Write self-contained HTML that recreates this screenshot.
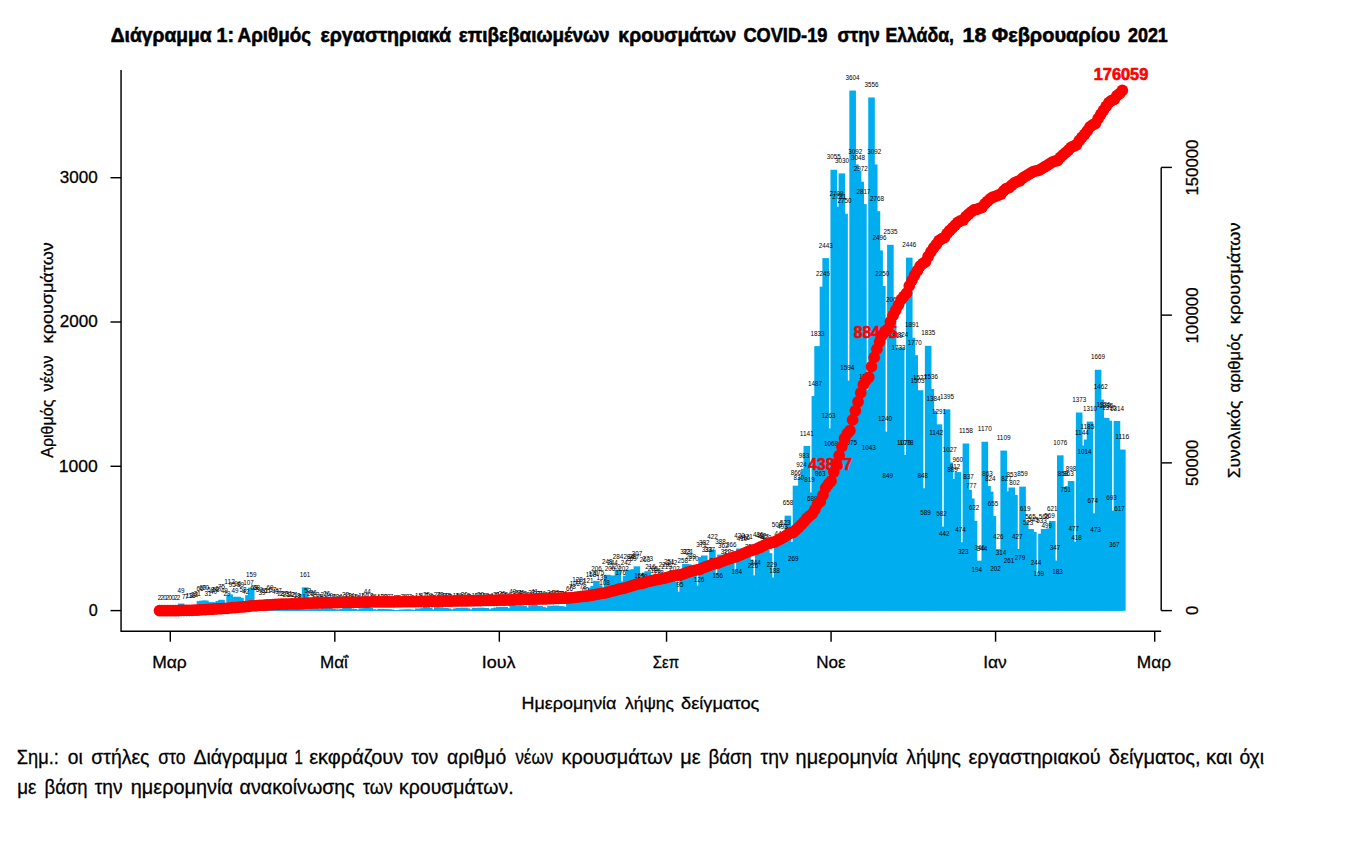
<!DOCTYPE html>
<html lang="el"><head><meta charset="utf-8"><title>Διάγραμμα 1</title>
<style>html,body{margin:0;padding:0;background:#fff}svg{display:block}text{font-family:'Liberation Sans', sans-serif}</style></head>
<body>
<svg width="1364" height="848" viewBox="0 0 1364 848">
<rect width="1364" height="848" fill="#fff"/>
<g fill="#00AEEF">
<rect x="156.21" y="610.31" width="6.60" height="0.44"/>
<rect x="158.91" y="610.31" width="6.60" height="0.44"/>
<rect x="164.30" y="610.31" width="6.60" height="0.44"/>
<rect x="172.39" y="610.31" width="6.60" height="0.44"/>
<rect x="175.09" y="610.31" width="6.60" height="0.44"/>
<rect x="177.79" y="603.53" width="6.60" height="7.22"/>
<rect x="180.49" y="609.59" width="6.60" height="1.16"/>
<rect x="183.18" y="609.59" width="6.60" height="1.16"/>
<rect x="185.88" y="608.72" width="6.60" height="2.03"/>
<rect x="188.58" y="608.00" width="6.60" height="2.75"/>
<rect x="191.27" y="607.28" width="6.60" height="3.47"/>
<rect x="193.97" y="606.13" width="6.60" height="4.62"/>
<rect x="196.67" y="601.08" width="6.60" height="9.67"/>
<rect x="199.36" y="600.64" width="6.60" height="10.11"/>
<rect x="202.06" y="600.50" width="6.60" height="10.25"/>
<rect x="204.76" y="606.13" width="6.60" height="4.62"/>
<rect x="207.45" y="602.09" width="6.60" height="8.66"/>
<rect x="210.15" y="604.83" width="6.60" height="5.92"/>
<rect x="212.85" y="602.23" width="6.60" height="8.52"/>
<rect x="215.55" y="600.93" width="6.60" height="9.82"/>
<rect x="218.24" y="599.78" width="6.60" height="10.97"/>
<rect x="220.94" y="603.53" width="6.60" height="7.22"/>
<rect x="223.64" y="606.42" width="6.60" height="4.33"/>
<rect x="226.33" y="594.44" width="6.60" height="16.31"/>
<rect x="229.03" y="596.89" width="6.60" height="13.86"/>
<rect x="231.73" y="603.53" width="6.60" height="7.22"/>
<rect x="234.43" y="596.75" width="6.60" height="14.00"/>
<rect x="237.12" y="597.76" width="6.60" height="12.99"/>
<rect x="239.82" y="602.23" width="6.60" height="8.52"/>
<rect x="242.52" y="604.54" width="6.60" height="6.21"/>
<rect x="245.21" y="595.16" width="6.60" height="15.59"/>
<rect x="247.91" y="587.66" width="6.60" height="23.09"/>
<rect x="250.61" y="600.79" width="6.60" height="9.96"/>
<rect x="253.30" y="600.79" width="6.60" height="9.96"/>
<rect x="256.00" y="602.09" width="6.60" height="8.66"/>
<rect x="258.70" y="604.97" width="6.60" height="5.78"/>
<rect x="261.39" y="603.24" width="6.60" height="7.51"/>
<rect x="264.09" y="603.24" width="6.60" height="7.51"/>
<rect x="266.79" y="600.64" width="6.60" height="10.11"/>
<rect x="269.49" y="602.37" width="6.60" height="8.38"/>
<rect x="272.18" y="604.40" width="6.60" height="6.35"/>
<rect x="274.88" y="603.82" width="6.60" height="6.93"/>
<rect x="277.58" y="606.56" width="6.60" height="4.19"/>
<rect x="280.27" y="606.70" width="6.60" height="4.05"/>
<rect x="282.97" y="606.99" width="6.60" height="3.76"/>
<rect x="285.67" y="606.13" width="6.60" height="4.62"/>
<rect x="288.37" y="607.43" width="6.60" height="3.32"/>
<rect x="291.06" y="607.57" width="6.60" height="3.18"/>
<rect x="293.76" y="608.00" width="6.60" height="2.75"/>
<rect x="296.46" y="609.45" width="6.60" height="1.30"/>
<rect x="299.15" y="609.01" width="6.60" height="1.74"/>
<rect x="301.85" y="587.37" width="6.60" height="23.38"/>
<rect x="304.55" y="602.95" width="6.60" height="7.80"/>
<rect x="307.24" y="606.85" width="6.60" height="3.90"/>
<rect x="309.94" y="605.41" width="6.60" height="5.34"/>
<rect x="312.64" y="607.28" width="6.60" height="3.47"/>
<rect x="315.33" y="609.01" width="6.60" height="1.74"/>
<rect x="318.03" y="609.30" width="6.60" height="1.45"/>
<rect x="320.73" y="607.57" width="6.60" height="3.18"/>
<rect x="323.43" y="606.85" width="6.60" height="3.90"/>
<rect x="326.12" y="607.86" width="6.60" height="2.89"/>
<rect x="328.82" y="608.87" width="6.60" height="1.88"/>
<rect x="331.52" y="609.73" width="6.60" height="1.02"/>
<rect x="334.21" y="609.45" width="6.60" height="1.30"/>
<rect x="336.91" y="609.88" width="6.60" height="0.87"/>
<rect x="339.61" y="608.87" width="6.60" height="1.88"/>
<rect x="342.31" y="607.43" width="6.60" height="3.32"/>
<rect x="345.00" y="608.00" width="6.60" height="2.75"/>
<rect x="347.70" y="608.58" width="6.60" height="2.17"/>
<rect x="350.40" y="609.01" width="6.60" height="1.74"/>
<rect x="353.09" y="609.73" width="6.60" height="1.02"/>
<rect x="355.79" y="609.88" width="6.60" height="0.87"/>
<rect x="358.49" y="608.29" width="6.60" height="2.46"/>
<rect x="361.18" y="608.58" width="6.60" height="2.17"/>
<rect x="363.88" y="604.25" width="6.60" height="6.50"/>
<rect x="366.58" y="608.00" width="6.60" height="2.75"/>
<rect x="369.28" y="609.30" width="6.60" height="1.45"/>
<rect x="371.97" y="609.73" width="6.60" height="1.02"/>
<rect x="374.67" y="610.02" width="6.60" height="0.73"/>
<rect x="377.37" y="608.87" width="6.60" height="1.88"/>
<rect x="380.06" y="609.16" width="6.60" height="1.59"/>
<rect x="382.76" y="609.30" width="6.60" height="1.45"/>
<rect x="385.46" y="609.45" width="6.60" height="1.30"/>
<rect x="388.15" y="609.59" width="6.60" height="1.16"/>
<rect x="390.85" y="610.02" width="6.60" height="0.73"/>
<rect x="393.55" y="610.17" width="6.60" height="0.58"/>
<rect x="396.25" y="609.88" width="6.60" height="0.87"/>
<rect x="398.94" y="609.59" width="6.60" height="1.16"/>
<rect x="401.64" y="609.73" width="6.60" height="1.02"/>
<rect x="404.34" y="609.45" width="6.60" height="1.30"/>
<rect x="407.03" y="609.59" width="6.60" height="1.16"/>
<rect x="409.73" y="609.88" width="6.60" height="0.87"/>
<rect x="412.43" y="610.02" width="6.60" height="0.73"/>
<rect x="415.12" y="608.44" width="6.60" height="2.31"/>
<rect x="417.82" y="609.88" width="6.60" height="0.87"/>
<rect x="420.52" y="608.15" width="6.60" height="2.60"/>
<rect x="423.22" y="606.99" width="6.60" height="3.76"/>
<rect x="425.91" y="607.86" width="6.60" height="2.89"/>
<rect x="428.61" y="609.45" width="6.60" height="1.30"/>
<rect x="431.31" y="609.88" width="6.60" height="0.87"/>
<rect x="434.00" y="607.14" width="6.60" height="3.61"/>
<rect x="436.70" y="607.28" width="6.60" height="3.47"/>
<rect x="439.40" y="607.86" width="6.60" height="2.89"/>
<rect x="442.09" y="608.00" width="6.60" height="2.75"/>
<rect x="444.79" y="608.44" width="6.60" height="2.31"/>
<rect x="447.49" y="609.45" width="6.60" height="1.30"/>
<rect x="450.19" y="610.02" width="6.60" height="0.73"/>
<rect x="452.88" y="608.44" width="6.60" height="2.31"/>
<rect x="455.58" y="607.86" width="6.60" height="2.89"/>
<rect x="458.28" y="609.59" width="6.60" height="1.16"/>
<rect x="460.97" y="607.71" width="6.60" height="3.04"/>
<rect x="463.67" y="608.29" width="6.60" height="2.46"/>
<rect x="466.37" y="609.45" width="6.60" height="1.30"/>
<rect x="469.06" y="609.88" width="6.60" height="0.87"/>
<rect x="471.76" y="607.86" width="6.60" height="2.89"/>
<rect x="474.46" y="608.15" width="6.60" height="2.60"/>
<rect x="477.16" y="607.71" width="6.60" height="3.04"/>
<rect x="479.85" y="607.86" width="6.60" height="2.89"/>
<rect x="482.55" y="608.00" width="6.60" height="2.75"/>
<rect x="485.25" y="609.45" width="6.60" height="1.30"/>
<rect x="487.94" y="609.59" width="6.60" height="1.16"/>
<rect x="490.64" y="608.15" width="6.60" height="2.60"/>
<rect x="493.34" y="607.57" width="6.60" height="3.18"/>
<rect x="496.03" y="607.14" width="6.60" height="3.61"/>
<rect x="498.73" y="606.85" width="6.60" height="3.90"/>
<rect x="501.43" y="606.99" width="6.60" height="3.76"/>
<rect x="504.12" y="608.15" width="6.60" height="2.60"/>
<rect x="506.82" y="608.87" width="6.60" height="1.88"/>
<rect x="509.52" y="604.83" width="6.60" height="5.92"/>
<rect x="512.22" y="606.27" width="6.60" height="4.48"/>
<rect x="514.91" y="605.69" width="6.60" height="5.06"/>
<rect x="517.61" y="605.41" width="6.60" height="5.34"/>
<rect x="520.31" y="605.98" width="6.60" height="4.77"/>
<rect x="523.00" y="607.43" width="6.60" height="3.32"/>
<rect x="525.70" y="608.15" width="6.60" height="2.60"/>
<rect x="528.40" y="605.26" width="6.60" height="5.49"/>
<rect x="531.10" y="604.68" width="6.60" height="6.07"/>
<rect x="533.79" y="605.98" width="6.60" height="4.77"/>
<rect x="536.49" y="606.13" width="6.60" height="4.62"/>
<rect x="539.19" y="606.85" width="6.60" height="3.90"/>
<rect x="541.88" y="609.16" width="6.60" height="1.59"/>
<rect x="544.58" y="607.71" width="6.60" height="3.04"/>
<rect x="547.28" y="605.69" width="6.60" height="5.06"/>
<rect x="549.97" y="606.13" width="6.60" height="4.62"/>
<rect x="552.67" y="605.55" width="6.60" height="5.20"/>
<rect x="555.37" y="605.98" width="6.60" height="4.77"/>
<rect x="558.07" y="606.13" width="6.60" height="4.62"/>
<rect x="560.76" y="606.85" width="6.60" height="3.90"/>
<rect x="563.46" y="607.14" width="6.60" height="3.61"/>
<rect x="566.16" y="601.08" width="6.60" height="9.67"/>
<rect x="568.85" y="599.34" width="6.60" height="11.41"/>
<rect x="571.55" y="595.88" width="6.60" height="14.87"/>
<rect x="574.25" y="592.13" width="6.60" height="18.62"/>
<rect x="576.94" y="594.44" width="6.60" height="16.31"/>
<rect x="579.64" y="599.34" width="6.60" height="11.41"/>
<rect x="582.34" y="601.94" width="6.60" height="8.81"/>
<rect x="585.04" y="593.14" width="6.60" height="17.61"/>
<rect x="587.73" y="587.80" width="6.60" height="22.95"/>
<rect x="590.43" y="585.92" width="6.60" height="24.83"/>
<rect x="593.13" y="580.87" width="6.60" height="29.88"/>
<rect x="595.82" y="585.35" width="6.60" height="25.40"/>
<rect x="598.52" y="590.54" width="6.60" height="20.21"/>
<rect x="601.22" y="595.02" width="6.60" height="15.73"/>
<rect x="603.91" y="574.81" width="6.60" height="35.94"/>
<rect x="606.61" y="580.87" width="6.60" height="29.88"/>
<rect x="609.31" y="575.39" width="6.60" height="35.36"/>
<rect x="612.01" y="578.85" width="6.60" height="31.90"/>
<rect x="614.70" y="569.62" width="6.60" height="41.13"/>
<rect x="617.40" y="585.20" width="6.60" height="25.55"/>
<rect x="620.10" y="581.45" width="6.60" height="29.30"/>
<rect x="622.79" y="575.68" width="6.60" height="35.07"/>
<rect x="625.49" y="569.62" width="6.60" height="41.13"/>
<rect x="628.19" y="571.78" width="6.60" height="38.97"/>
<rect x="630.88" y="569.19" width="6.60" height="41.56"/>
<rect x="633.58" y="566.30" width="6.60" height="44.45"/>
<rect x="636.28" y="588.23" width="6.60" height="22.52"/>
<rect x="638.98" y="588.96" width="6.60" height="21.79"/>
<rect x="641.67" y="572.65" width="6.60" height="38.10"/>
<rect x="644.37" y="571.21" width="6.60" height="39.54"/>
<rect x="647.07" y="579.43" width="6.60" height="31.32"/>
<rect x="649.76" y="581.02" width="6.60" height="29.73"/>
<rect x="652.46" y="583.76" width="6.60" height="26.99"/>
<rect x="655.16" y="584.91" width="6.60" height="25.84"/>
<rect x="657.85" y="590.40" width="6.60" height="20.35"/>
<rect x="660.55" y="577.56" width="6.60" height="33.19"/>
<rect x="663.25" y="579.00" width="6.60" height="31.75"/>
<rect x="665.95" y="574.38" width="6.60" height="36.37"/>
<rect x="668.64" y="575.68" width="6.60" height="35.07"/>
<rect x="671.34" y="581.45" width="6.60" height="29.30"/>
<rect x="674.04" y="591.70" width="6.60" height="19.05"/>
<rect x="676.73" y="596.89" width="6.60" height="13.86"/>
<rect x="679.43" y="573.37" width="6.60" height="37.38"/>
<rect x="682.13" y="563.99" width="6.60" height="46.76"/>
<rect x="684.82" y="564.28" width="6.60" height="46.47"/>
<rect x="687.52" y="568.90" width="6.60" height="41.85"/>
<rect x="690.22" y="571.64" width="6.60" height="39.11"/>
<rect x="692.91" y="585.64" width="6.60" height="25.11"/>
<rect x="695.61" y="592.42" width="6.60" height="18.33"/>
<rect x="698.31" y="557.06" width="6.60" height="53.69"/>
<rect x="701.01" y="555.48" width="6.60" height="55.27"/>
<rect x="703.70" y="562.55" width="6.60" height="48.20"/>
<rect x="706.40" y="561.97" width="6.60" height="48.78"/>
<rect x="709.10" y="549.71" width="6.60" height="61.04"/>
<rect x="711.79" y="573.08" width="6.60" height="37.67"/>
<rect x="714.49" y="588.09" width="6.60" height="22.66"/>
<rect x="717.19" y="554.61" width="6.60" height="56.14"/>
<rect x="719.88" y="558.36" width="6.60" height="52.39"/>
<rect x="722.58" y="564.14" width="6.60" height="46.61"/>
<rect x="725.28" y="565.58" width="6.60" height="45.17"/>
<rect x="727.98" y="557.79" width="6.60" height="52.96"/>
<rect x="730.67" y="569.47" width="6.60" height="41.28"/>
<rect x="733.37" y="584.05" width="6.60" height="26.70"/>
<rect x="736.07" y="548.55" width="6.60" height="62.20"/>
<rect x="738.76" y="551.44" width="6.60" height="59.31"/>
<rect x="741.46" y="550.57" width="6.60" height="60.18"/>
<rect x="744.16" y="549.85" width="6.60" height="60.90"/>
<rect x="746.86" y="559.52" width="6.60" height="51.23"/>
<rect x="749.55" y="577.99" width="6.60" height="32.76"/>
<rect x="752.25" y="575.39" width="6.60" height="35.36"/>
<rect x="754.95" y="547.69" width="6.60" height="63.06"/>
<rect x="757.64" y="548.26" width="6.60" height="62.49"/>
<rect x="760.34" y="548.98" width="6.60" height="61.77"/>
<rect x="763.04" y="549.99" width="6.60" height="60.76"/>
<rect x="765.73" y="553.17" width="6.60" height="57.58"/>
<rect x="768.43" y="577.56" width="6.60" height="33.19"/>
<rect x="771.13" y="583.47" width="6.60" height="27.28"/>
<rect x="773.83" y="537.30" width="6.60" height="73.45"/>
<rect x="776.52" y="546.10" width="6.60" height="64.65"/>
<rect x="779.22" y="539.46" width="6.60" height="71.29"/>
<rect x="781.92" y="535.13" width="6.60" height="75.62"/>
<rect x="784.61" y="515.65" width="6.60" height="95.10"/>
<rect x="787.31" y="541.91" width="6.60" height="68.84"/>
<rect x="790.01" y="571.78" width="6.60" height="38.97"/>
<rect x="792.70" y="485.64" width="6.60" height="125.11"/>
<rect x="795.40" y="490.83" width="6.60" height="119.92"/>
<rect x="798.10" y="477.27" width="6.60" height="133.48"/>
<rect x="800.80" y="468.75" width="6.60" height="142.00"/>
<rect x="803.49" y="445.95" width="6.60" height="164.80"/>
<rect x="806.19" y="492.42" width="6.60" height="118.33"/>
<rect x="808.89" y="511.18" width="6.60" height="99.57"/>
<rect x="811.58" y="396.03" width="6.60" height="214.72"/>
<rect x="814.28" y="346.10" width="6.60" height="264.65"/>
<rect x="816.98" y="486.07" width="6.60" height="124.68"/>
<rect x="819.67" y="286.65" width="6.60" height="324.10"/>
<rect x="822.37" y="258.08" width="6.60" height="352.67"/>
<rect x="825.07" y="428.35" width="6.60" height="182.40"/>
<rect x="827.77" y="456.49" width="6.60" height="154.26"/>
<rect x="830.46" y="169.76" width="6.60" height="440.99"/>
<rect x="833.16" y="206.70" width="6.60" height="404.05"/>
<rect x="835.86" y="209.30" width="6.60" height="401.45"/>
<rect x="838.55" y="173.37" width="6.60" height="437.38"/>
<rect x="841.25" y="213.77" width="6.60" height="396.98"/>
<rect x="843.95" y="380.59" width="6.60" height="230.16"/>
<rect x="846.64" y="455.48" width="6.60" height="155.27"/>
<rect x="849.34" y="90.54" width="6.60" height="520.21"/>
<rect x="852.04" y="164.42" width="6.60" height="446.33"/>
<rect x="854.74" y="170.77" width="6.60" height="439.98"/>
<rect x="857.43" y="181.74" width="6.60" height="429.01"/>
<rect x="860.13" y="204.11" width="6.60" height="406.64"/>
<rect x="862.83" y="389.53" width="6.60" height="221.22"/>
<rect x="865.52" y="460.10" width="6.60" height="150.65"/>
<rect x="868.22" y="97.47" width="6.60" height="513.28"/>
<rect x="870.92" y="164.42" width="6.60" height="446.33"/>
<rect x="873.61" y="211.18" width="6.60" height="399.57"/>
<rect x="876.31" y="250.43" width="6.60" height="360.32"/>
<rect x="879.01" y="285.93" width="6.60" height="324.82"/>
<rect x="881.71" y="431.67" width="6.60" height="179.08"/>
<rect x="884.40" y="488.09" width="6.60" height="122.66"/>
<rect x="887.10" y="244.80" width="6.60" height="365.95"/>
<rect x="889.80" y="312.19" width="6.60" height="298.56"/>
<rect x="892.49" y="348.12" width="6.60" height="262.63"/>
<rect x="895.19" y="360.53" width="6.60" height="250.22"/>
<rect x="897.89" y="347.40" width="6.60" height="263.35"/>
<rect x="900.58" y="454.90" width="6.60" height="155.85"/>
<rect x="903.28" y="455.04" width="6.60" height="155.71"/>
<rect x="905.98" y="257.64" width="6.60" height="353.11"/>
<rect x="908.68" y="337.73" width="6.60" height="273.02"/>
<rect x="911.37" y="355.19" width="6.60" height="255.56"/>
<rect x="914.07" y="393.72" width="6.60" height="217.03"/>
<rect x="916.77" y="390.25" width="6.60" height="220.50"/>
<rect x="919.46" y="488.23" width="6.60" height="122.52"/>
<rect x="922.16" y="525.61" width="6.60" height="85.14"/>
<rect x="924.86" y="345.81" width="6.60" height="264.94"/>
<rect x="927.55" y="388.96" width="6.60" height="221.79"/>
<rect x="930.25" y="410.89" width="6.60" height="199.86"/>
<rect x="932.95" y="445.81" width="6.60" height="164.94"/>
<rect x="935.64" y="424.31" width="6.60" height="186.44"/>
<rect x="938.34" y="526.62" width="6.60" height="84.13"/>
<rect x="941.04" y="546.82" width="6.60" height="63.93"/>
<rect x="943.74" y="409.30" width="6.60" height="201.45"/>
<rect x="946.43" y="462.40" width="6.60" height="148.35"/>
<rect x="949.13" y="482.32" width="6.60" height="128.43"/>
<rect x="951.83" y="479.00" width="6.60" height="131.75"/>
<rect x="954.52" y="472.07" width="6.60" height="138.68"/>
<rect x="957.22" y="542.20" width="6.60" height="68.55"/>
<rect x="959.92" y="563.99" width="6.60" height="46.76"/>
<rect x="962.62" y="443.50" width="6.60" height="167.25"/>
<rect x="965.31" y="489.82" width="6.60" height="120.93"/>
<rect x="968.01" y="498.48" width="6.60" height="112.27"/>
<rect x="970.71" y="520.85" width="6.60" height="89.90"/>
<rect x="973.40" y="582.61" width="6.60" height="28.14"/>
<rect x="976.10" y="560.67" width="6.60" height="50.08"/>
<rect x="978.80" y="560.96" width="6.60" height="49.79"/>
<rect x="981.49" y="441.77" width="6.60" height="168.98"/>
<rect x="984.19" y="486.07" width="6.60" height="124.68"/>
<rect x="986.89" y="491.70" width="6.60" height="119.05"/>
<rect x="989.59" y="516.08" width="6.60" height="94.67"/>
<rect x="992.28" y="581.45" width="6.60" height="29.30"/>
<rect x="994.98" y="549.13" width="6.60" height="61.62"/>
<rect x="997.68" y="565.29" width="6.60" height="45.46"/>
<rect x="1000.37" y="450.57" width="6.60" height="160.18"/>
<rect x="1003.07" y="491.26" width="6.60" height="119.49"/>
<rect x="1005.77" y="572.94" width="6.60" height="37.81"/>
<rect x="1008.46" y="487.51" width="6.60" height="123.24"/>
<rect x="1011.16" y="494.87" width="6.60" height="115.88"/>
<rect x="1013.86" y="548.98" width="6.60" height="61.77"/>
<rect x="1016.56" y="570.34" width="6.60" height="40.41"/>
<rect x="1019.25" y="486.65" width="6.60" height="124.10"/>
<rect x="1021.95" y="521.28" width="6.60" height="89.47"/>
<rect x="1024.65" y="535.13" width="6.60" height="75.62"/>
<rect x="1027.34" y="529.07" width="6.60" height="81.68"/>
<rect x="1030.04" y="531.96" width="6.60" height="78.79"/>
<rect x="1032.74" y="575.39" width="6.60" height="35.36"/>
<rect x="1035.43" y="586.21" width="6.60" height="24.54"/>
<rect x="1038.13" y="533.69" width="6.60" height="77.06"/>
<rect x="1040.83" y="528.93" width="6.60" height="81.82"/>
<rect x="1043.53" y="538.59" width="6.60" height="72.16"/>
<rect x="1046.22" y="528.49" width="6.60" height="82.26"/>
<rect x="1048.92" y="520.99" width="6.60" height="89.76"/>
<rect x="1051.62" y="560.53" width="6.60" height="50.22"/>
<rect x="1054.31" y="584.19" width="6.60" height="26.56"/>
<rect x="1057.01" y="455.33" width="6.60" height="155.42"/>
<rect x="1059.71" y="486.79" width="6.60" height="123.96"/>
<rect x="1062.40" y="502.23" width="6.60" height="108.52"/>
<rect x="1065.10" y="486.07" width="6.60" height="124.68"/>
<rect x="1067.80" y="481.02" width="6.60" height="129.73"/>
<rect x="1070.50" y="541.77" width="6.60" height="68.98"/>
<rect x="1073.19" y="550.28" width="6.60" height="60.47"/>
<rect x="1075.89" y="412.48" width="6.60" height="198.27"/>
<rect x="1078.59" y="445.52" width="6.60" height="165.23"/>
<rect x="1081.28" y="464.28" width="6.60" height="146.47"/>
<rect x="1083.98" y="439.60" width="6.60" height="171.15"/>
<rect x="1086.68" y="421.57" width="6.60" height="189.18"/>
<rect x="1089.37" y="513.34" width="6.60" height="97.41"/>
<rect x="1092.07" y="542.35" width="6.60" height="68.40"/>
<rect x="1094.77" y="369.76" width="6.60" height="240.99"/>
<rect x="1097.47" y="399.63" width="6.60" height="211.12"/>
<rect x="1100.16" y="417.82" width="6.60" height="192.93"/>
<rect x="1102.86" y="417.96" width="6.60" height="192.79"/>
<rect x="1105.56" y="420.70" width="6.60" height="190.05"/>
<rect x="1108.25" y="510.60" width="6.60" height="100.15"/>
<rect x="1110.95" y="557.64" width="6.60" height="53.11"/>
<rect x="1113.65" y="420.99" width="6.60" height="189.76"/>
<rect x="1116.34" y="521.57" width="6.60" height="89.18"/>
<rect x="1119.04" y="449.56" width="6.60" height="161.19"/>
</g>
<g font-size="6.3" text-anchor="middle" fill="#000">
<text x="159.5" y="599.9" textLength="3.5" lengthAdjust="spacingAndGlyphs">2</text>
<text x="162.2" y="599.9" textLength="3.5" lengthAdjust="spacingAndGlyphs">2</text>
<text x="164.9" y="600.2" textLength="3.5" lengthAdjust="spacingAndGlyphs">0</text>
<text x="167.6" y="599.9" textLength="3.5" lengthAdjust="spacingAndGlyphs">2</text>
<text x="170.3" y="600.2" textLength="3.5" lengthAdjust="spacingAndGlyphs">0</text>
<text x="173.0" y="600.2" textLength="3.5" lengthAdjust="spacingAndGlyphs">0</text>
<text x="175.7" y="599.9" textLength="3.5" lengthAdjust="spacingAndGlyphs">2</text>
<text x="178.4" y="599.9" textLength="3.5" lengthAdjust="spacingAndGlyphs">2</text>
<text x="181.1" y="593.1" textLength="7.0" lengthAdjust="spacingAndGlyphs">49</text>
<text x="183.8" y="599.2" textLength="3.5" lengthAdjust="spacingAndGlyphs">7</text>
<text x="186.5" y="599.2" textLength="3.5" lengthAdjust="spacingAndGlyphs">7</text>
<text x="189.2" y="598.3" textLength="7.0" lengthAdjust="spacingAndGlyphs">13</text>
<text x="191.9" y="597.6" textLength="7.0" lengthAdjust="spacingAndGlyphs">18</text>
<text x="194.6" y="596.9" textLength="7.0" lengthAdjust="spacingAndGlyphs">23</text>
<text x="197.3" y="595.7" textLength="7.0" lengthAdjust="spacingAndGlyphs">31</text>
<text x="200.0" y="590.7" textLength="7.0" lengthAdjust="spacingAndGlyphs">66</text>
<text x="202.7" y="590.2" textLength="7.0" lengthAdjust="spacingAndGlyphs">69</text>
<text x="205.4" y="590.1" textLength="7.0" lengthAdjust="spacingAndGlyphs">70</text>
<text x="208.1" y="595.7" textLength="7.0" lengthAdjust="spacingAndGlyphs">31</text>
<text x="210.8" y="591.7" textLength="7.0" lengthAdjust="spacingAndGlyphs">59</text>
<text x="213.5" y="594.4" textLength="7.0" lengthAdjust="spacingAndGlyphs">40</text>
<text x="216.1" y="591.8" textLength="7.0" lengthAdjust="spacingAndGlyphs">58</text>
<text x="218.8" y="590.5" textLength="7.0" lengthAdjust="spacingAndGlyphs">67</text>
<text x="221.5" y="589.4" textLength="7.0" lengthAdjust="spacingAndGlyphs">75</text>
<text x="224.2" y="593.1" textLength="7.0" lengthAdjust="spacingAndGlyphs">49</text>
<text x="226.9" y="596.0" textLength="7.0" lengthAdjust="spacingAndGlyphs">29</text>
<text x="229.6" y="584.0" textLength="10.5" lengthAdjust="spacingAndGlyphs">112</text>
<text x="232.3" y="586.5" textLength="7.0" lengthAdjust="spacingAndGlyphs">95</text>
<text x="235.0" y="593.1" textLength="7.0" lengthAdjust="spacingAndGlyphs">49</text>
<text x="237.7" y="586.3" textLength="7.0" lengthAdjust="spacingAndGlyphs">96</text>
<text x="240.4" y="587.4" textLength="7.0" lengthAdjust="spacingAndGlyphs">89</text>
<text x="243.1" y="591.8" textLength="7.0" lengthAdjust="spacingAndGlyphs">58</text>
<text x="245.8" y="594.1" textLength="7.0" lengthAdjust="spacingAndGlyphs">42</text>
<text x="248.5" y="584.8" textLength="10.5" lengthAdjust="spacingAndGlyphs">107</text>
<text x="251.2" y="577.3" textLength="10.5" lengthAdjust="spacingAndGlyphs">159</text>
<text x="253.9" y="590.4" textLength="7.0" lengthAdjust="spacingAndGlyphs">68</text>
<text x="256.6" y="590.4" textLength="7.0" lengthAdjust="spacingAndGlyphs">68</text>
<text x="259.3" y="591.7" textLength="7.0" lengthAdjust="spacingAndGlyphs">59</text>
<text x="262.0" y="594.6" textLength="7.0" lengthAdjust="spacingAndGlyphs">39</text>
<text x="264.7" y="592.8" textLength="7.0" lengthAdjust="spacingAndGlyphs">51</text>
<text x="267.4" y="592.8" textLength="7.0" lengthAdjust="spacingAndGlyphs">51</text>
<text x="270.1" y="590.2" textLength="7.0" lengthAdjust="spacingAndGlyphs">69</text>
<text x="272.8" y="592.0" textLength="7.0" lengthAdjust="spacingAndGlyphs">57</text>
<text x="275.5" y="594.0" textLength="7.0" lengthAdjust="spacingAndGlyphs">43</text>
<text x="278.2" y="593.4" textLength="7.0" lengthAdjust="spacingAndGlyphs">47</text>
<text x="280.9" y="596.2" textLength="7.0" lengthAdjust="spacingAndGlyphs">28</text>
<text x="283.6" y="596.3" textLength="7.0" lengthAdjust="spacingAndGlyphs">27</text>
<text x="286.3" y="596.6" textLength="7.0" lengthAdjust="spacingAndGlyphs">25</text>
<text x="289.0" y="595.7" textLength="7.0" lengthAdjust="spacingAndGlyphs">31</text>
<text x="291.7" y="597.0" textLength="7.0" lengthAdjust="spacingAndGlyphs">22</text>
<text x="294.4" y="597.2" textLength="7.0" lengthAdjust="spacingAndGlyphs">21</text>
<text x="297.1" y="597.6" textLength="7.0" lengthAdjust="spacingAndGlyphs">18</text>
<text x="299.8" y="599.0" textLength="3.5" lengthAdjust="spacingAndGlyphs">8</text>
<text x="302.5" y="598.6" textLength="7.0" lengthAdjust="spacingAndGlyphs">11</text>
<text x="305.1" y="577.0" textLength="10.5" lengthAdjust="spacingAndGlyphs">161</text>
<text x="307.8" y="592.6" textLength="7.0" lengthAdjust="spacingAndGlyphs">53</text>
<text x="310.5" y="596.4" textLength="7.0" lengthAdjust="spacingAndGlyphs">26</text>
<text x="313.2" y="595.0" textLength="7.0" lengthAdjust="spacingAndGlyphs">36</text>
<text x="315.9" y="596.9" textLength="7.0" lengthAdjust="spacingAndGlyphs">23</text>
<text x="318.6" y="598.6" textLength="7.0" lengthAdjust="spacingAndGlyphs">11</text>
<text x="321.3" y="598.9" textLength="3.5" lengthAdjust="spacingAndGlyphs">9</text>
<text x="324.0" y="597.2" textLength="7.0" lengthAdjust="spacingAndGlyphs">21</text>
<text x="326.7" y="596.4" textLength="7.0" lengthAdjust="spacingAndGlyphs">26</text>
<text x="329.4" y="597.5" textLength="7.0" lengthAdjust="spacingAndGlyphs">19</text>
<text x="332.1" y="598.5" textLength="7.0" lengthAdjust="spacingAndGlyphs">12</text>
<text x="334.8" y="599.3" textLength="3.5" lengthAdjust="spacingAndGlyphs">6</text>
<text x="337.5" y="599.0" textLength="3.5" lengthAdjust="spacingAndGlyphs">8</text>
<text x="340.2" y="599.5" textLength="3.5" lengthAdjust="spacingAndGlyphs">5</text>
<text x="342.9" y="598.5" textLength="7.0" lengthAdjust="spacingAndGlyphs">12</text>
<text x="345.6" y="597.0" textLength="7.0" lengthAdjust="spacingAndGlyphs">22</text>
<text x="348.3" y="597.6" textLength="7.0" lengthAdjust="spacingAndGlyphs">18</text>
<text x="351.0" y="598.2" textLength="7.0" lengthAdjust="spacingAndGlyphs">14</text>
<text x="353.7" y="598.6" textLength="7.0" lengthAdjust="spacingAndGlyphs">11</text>
<text x="356.4" y="599.3" textLength="3.5" lengthAdjust="spacingAndGlyphs">6</text>
<text x="359.1" y="599.5" textLength="3.5" lengthAdjust="spacingAndGlyphs">5</text>
<text x="361.8" y="597.9" textLength="7.0" lengthAdjust="spacingAndGlyphs">16</text>
<text x="364.5" y="598.2" textLength="7.0" lengthAdjust="spacingAndGlyphs">14</text>
<text x="367.2" y="593.9" textLength="7.0" lengthAdjust="spacingAndGlyphs">44</text>
<text x="369.9" y="597.6" textLength="7.0" lengthAdjust="spacingAndGlyphs">18</text>
<text x="372.6" y="598.9" textLength="3.5" lengthAdjust="spacingAndGlyphs">9</text>
<text x="375.3" y="599.3" textLength="3.5" lengthAdjust="spacingAndGlyphs">6</text>
<text x="378.0" y="599.6" textLength="3.5" lengthAdjust="spacingAndGlyphs">4</text>
<text x="380.7" y="598.5" textLength="7.0" lengthAdjust="spacingAndGlyphs">12</text>
<text x="383.4" y="598.8" textLength="7.0" lengthAdjust="spacingAndGlyphs">10</text>
<text x="386.1" y="598.9" textLength="3.5" lengthAdjust="spacingAndGlyphs">9</text>
<text x="388.8" y="599.0" textLength="3.5" lengthAdjust="spacingAndGlyphs">8</text>
<text x="391.5" y="599.2" textLength="3.5" lengthAdjust="spacingAndGlyphs">7</text>
<text x="394.2" y="599.6" textLength="3.5" lengthAdjust="spacingAndGlyphs">4</text>
<text x="396.8" y="599.8" textLength="3.5" lengthAdjust="spacingAndGlyphs">3</text>
<text x="399.5" y="599.5" textLength="3.5" lengthAdjust="spacingAndGlyphs">5</text>
<text x="402.2" y="599.2" textLength="3.5" lengthAdjust="spacingAndGlyphs">7</text>
<text x="404.9" y="599.3" textLength="3.5" lengthAdjust="spacingAndGlyphs">6</text>
<text x="407.6" y="599.0" textLength="3.5" lengthAdjust="spacingAndGlyphs">8</text>
<text x="410.3" y="599.2" textLength="3.5" lengthAdjust="spacingAndGlyphs">7</text>
<text x="413.0" y="599.5" textLength="3.5" lengthAdjust="spacingAndGlyphs">5</text>
<text x="415.7" y="599.6" textLength="3.5" lengthAdjust="spacingAndGlyphs">4</text>
<text x="418.4" y="598.0" textLength="7.0" lengthAdjust="spacingAndGlyphs">15</text>
<text x="421.1" y="599.5" textLength="3.5" lengthAdjust="spacingAndGlyphs">5</text>
<text x="423.8" y="597.7" textLength="7.0" lengthAdjust="spacingAndGlyphs">17</text>
<text x="426.5" y="596.6" textLength="7.0" lengthAdjust="spacingAndGlyphs">25</text>
<text x="429.2" y="597.5" textLength="7.0" lengthAdjust="spacingAndGlyphs">19</text>
<text x="431.9" y="599.0" textLength="3.5" lengthAdjust="spacingAndGlyphs">8</text>
<text x="434.6" y="599.5" textLength="3.5" lengthAdjust="spacingAndGlyphs">5</text>
<text x="437.3" y="596.7" textLength="7.0" lengthAdjust="spacingAndGlyphs">24</text>
<text x="440.0" y="596.9" textLength="7.0" lengthAdjust="spacingAndGlyphs">23</text>
<text x="442.7" y="597.5" textLength="7.0" lengthAdjust="spacingAndGlyphs">19</text>
<text x="445.4" y="597.6" textLength="7.0" lengthAdjust="spacingAndGlyphs">18</text>
<text x="448.1" y="598.0" textLength="7.0" lengthAdjust="spacingAndGlyphs">15</text>
<text x="450.8" y="599.0" textLength="3.5" lengthAdjust="spacingAndGlyphs">8</text>
<text x="453.5" y="599.6" textLength="3.5" lengthAdjust="spacingAndGlyphs">4</text>
<text x="456.2" y="598.0" textLength="7.0" lengthAdjust="spacingAndGlyphs">15</text>
<text x="458.9" y="597.5" textLength="7.0" lengthAdjust="spacingAndGlyphs">19</text>
<text x="461.6" y="599.2" textLength="3.5" lengthAdjust="spacingAndGlyphs">7</text>
<text x="464.3" y="597.3" textLength="7.0" lengthAdjust="spacingAndGlyphs">20</text>
<text x="467.0" y="597.9" textLength="7.0" lengthAdjust="spacingAndGlyphs">16</text>
<text x="469.7" y="599.0" textLength="3.5" lengthAdjust="spacingAndGlyphs">8</text>
<text x="472.4" y="599.5" textLength="3.5" lengthAdjust="spacingAndGlyphs">5</text>
<text x="475.1" y="597.5" textLength="7.0" lengthAdjust="spacingAndGlyphs">19</text>
<text x="477.8" y="597.7" textLength="7.0" lengthAdjust="spacingAndGlyphs">17</text>
<text x="480.5" y="597.3" textLength="7.0" lengthAdjust="spacingAndGlyphs">20</text>
<text x="483.2" y="597.5" textLength="7.0" lengthAdjust="spacingAndGlyphs">19</text>
<text x="485.8" y="597.6" textLength="7.0" lengthAdjust="spacingAndGlyphs">18</text>
<text x="488.5" y="599.0" textLength="3.5" lengthAdjust="spacingAndGlyphs">8</text>
<text x="491.2" y="599.2" textLength="3.5" lengthAdjust="spacingAndGlyphs">7</text>
<text x="493.9" y="597.7" textLength="7.0" lengthAdjust="spacingAndGlyphs">17</text>
<text x="496.6" y="597.2" textLength="7.0" lengthAdjust="spacingAndGlyphs">21</text>
<text x="499.3" y="596.7" textLength="7.0" lengthAdjust="spacingAndGlyphs">24</text>
<text x="502.0" y="596.4" textLength="7.0" lengthAdjust="spacingAndGlyphs">26</text>
<text x="504.7" y="596.6" textLength="7.0" lengthAdjust="spacingAndGlyphs">25</text>
<text x="507.4" y="597.7" textLength="7.0" lengthAdjust="spacingAndGlyphs">17</text>
<text x="510.1" y="598.5" textLength="7.0" lengthAdjust="spacingAndGlyphs">12</text>
<text x="512.8" y="594.4" textLength="7.0" lengthAdjust="spacingAndGlyphs">40</text>
<text x="515.5" y="595.9" textLength="7.0" lengthAdjust="spacingAndGlyphs">30</text>
<text x="518.2" y="595.3" textLength="7.0" lengthAdjust="spacingAndGlyphs">34</text>
<text x="520.9" y="595.0" textLength="7.0" lengthAdjust="spacingAndGlyphs">36</text>
<text x="523.6" y="595.6" textLength="7.0" lengthAdjust="spacingAndGlyphs">32</text>
<text x="526.3" y="597.0" textLength="7.0" lengthAdjust="spacingAndGlyphs">22</text>
<text x="529.0" y="597.7" textLength="7.0" lengthAdjust="spacingAndGlyphs">17</text>
<text x="531.7" y="594.9" textLength="7.0" lengthAdjust="spacingAndGlyphs">37</text>
<text x="534.4" y="594.3" textLength="7.0" lengthAdjust="spacingAndGlyphs">41</text>
<text x="537.1" y="595.6" textLength="7.0" lengthAdjust="spacingAndGlyphs">32</text>
<text x="539.8" y="595.7" textLength="7.0" lengthAdjust="spacingAndGlyphs">31</text>
<text x="542.5" y="596.4" textLength="7.0" lengthAdjust="spacingAndGlyphs">26</text>
<text x="545.2" y="598.8" textLength="7.0" lengthAdjust="spacingAndGlyphs">10</text>
<text x="547.9" y="597.3" textLength="7.0" lengthAdjust="spacingAndGlyphs">20</text>
<text x="550.6" y="595.3" textLength="7.0" lengthAdjust="spacingAndGlyphs">34</text>
<text x="553.3" y="595.7" textLength="7.0" lengthAdjust="spacingAndGlyphs">31</text>
<text x="556.0" y="595.1" textLength="7.0" lengthAdjust="spacingAndGlyphs">35</text>
<text x="558.7" y="595.6" textLength="7.0" lengthAdjust="spacingAndGlyphs">32</text>
<text x="561.4" y="595.7" textLength="7.0" lengthAdjust="spacingAndGlyphs">31</text>
<text x="564.1" y="596.4" textLength="7.0" lengthAdjust="spacingAndGlyphs">26</text>
<text x="566.8" y="596.7" textLength="7.0" lengthAdjust="spacingAndGlyphs">24</text>
<text x="569.5" y="590.7" textLength="7.0" lengthAdjust="spacingAndGlyphs">66</text>
<text x="572.2" y="588.9" textLength="7.0" lengthAdjust="spacingAndGlyphs">78</text>
<text x="574.9" y="585.5" textLength="10.5" lengthAdjust="spacingAndGlyphs">102</text>
<text x="577.5" y="581.7" textLength="10.5" lengthAdjust="spacingAndGlyphs">128</text>
<text x="580.2" y="584.0" textLength="10.5" lengthAdjust="spacingAndGlyphs">112</text>
<text x="582.9" y="588.9" textLength="7.0" lengthAdjust="spacingAndGlyphs">78</text>
<text x="585.6" y="591.5" textLength="7.0" lengthAdjust="spacingAndGlyphs">60</text>
<text x="588.3" y="582.7" textLength="10.5" lengthAdjust="spacingAndGlyphs">121</text>
<text x="591.0" y="577.4" textLength="10.5" lengthAdjust="spacingAndGlyphs">158</text>
<text x="593.7" y="575.5" textLength="10.5" lengthAdjust="spacingAndGlyphs">171</text>
<text x="596.4" y="570.5" textLength="10.5" lengthAdjust="spacingAndGlyphs">206</text>
<text x="599.1" y="574.9" textLength="10.5" lengthAdjust="spacingAndGlyphs">175</text>
<text x="601.8" y="580.1" textLength="10.5" lengthAdjust="spacingAndGlyphs">139</text>
<text x="604.5" y="584.6" textLength="10.5" lengthAdjust="spacingAndGlyphs">108</text>
<text x="607.2" y="564.4" textLength="10.5" lengthAdjust="spacingAndGlyphs">248</text>
<text x="609.9" y="570.5" textLength="10.5" lengthAdjust="spacingAndGlyphs">206</text>
<text x="612.6" y="565.0" textLength="10.5" lengthAdjust="spacingAndGlyphs">244</text>
<text x="615.3" y="568.5" textLength="10.5" lengthAdjust="spacingAndGlyphs">220</text>
<text x="618.0" y="559.2" textLength="10.5" lengthAdjust="spacingAndGlyphs">284</text>
<text x="620.7" y="574.8" textLength="10.5" lengthAdjust="spacingAndGlyphs">176</text>
<text x="623.4" y="571.1" textLength="10.5" lengthAdjust="spacingAndGlyphs">202</text>
<text x="626.1" y="565.3" textLength="10.5" lengthAdjust="spacingAndGlyphs">242</text>
<text x="628.8" y="559.2" textLength="10.5" lengthAdjust="spacingAndGlyphs">284</text>
<text x="631.5" y="561.4" textLength="10.5" lengthAdjust="spacingAndGlyphs">269</text>
<text x="634.2" y="558.8" textLength="10.5" lengthAdjust="spacingAndGlyphs">287</text>
<text x="636.9" y="555.9" textLength="10.5" lengthAdjust="spacingAndGlyphs">307</text>
<text x="639.6" y="577.8" textLength="10.5" lengthAdjust="spacingAndGlyphs">155</text>
<text x="642.3" y="578.6" textLength="10.5" lengthAdjust="spacingAndGlyphs">150</text>
<text x="645.0" y="562.2" textLength="10.5" lengthAdjust="spacingAndGlyphs">263</text>
<text x="647.7" y="560.8" textLength="10.5" lengthAdjust="spacingAndGlyphs">273</text>
<text x="650.4" y="569.0" textLength="10.5" lengthAdjust="spacingAndGlyphs">216</text>
<text x="653.1" y="570.6" textLength="10.5" lengthAdjust="spacingAndGlyphs">205</text>
<text x="655.8" y="573.4" textLength="10.5" lengthAdjust="spacingAndGlyphs">186</text>
<text x="658.5" y="574.5" textLength="10.5" lengthAdjust="spacingAndGlyphs">178</text>
<text x="661.2" y="580.0" textLength="10.5" lengthAdjust="spacingAndGlyphs">140</text>
<text x="663.9" y="567.2" textLength="10.5" lengthAdjust="spacingAndGlyphs">229</text>
<text x="666.5" y="568.6" textLength="10.5" lengthAdjust="spacingAndGlyphs">219</text>
<text x="669.2" y="564.0" textLength="10.5" lengthAdjust="spacingAndGlyphs">251</text>
<text x="671.9" y="565.3" textLength="10.5" lengthAdjust="spacingAndGlyphs">242</text>
<text x="674.6" y="571.1" textLength="10.5" lengthAdjust="spacingAndGlyphs">202</text>
<text x="677.3" y="581.3" textLength="10.5" lengthAdjust="spacingAndGlyphs">131</text>
<text x="680.0" y="586.5" textLength="7.0" lengthAdjust="spacingAndGlyphs">95</text>
<text x="682.7" y="563.0" textLength="10.5" lengthAdjust="spacingAndGlyphs">258</text>
<text x="685.4" y="553.6" textLength="10.5" lengthAdjust="spacingAndGlyphs">323</text>
<text x="688.1" y="553.9" textLength="10.5" lengthAdjust="spacingAndGlyphs">321</text>
<text x="690.8" y="558.5" textLength="10.5" lengthAdjust="spacingAndGlyphs">289</text>
<text x="693.5" y="561.2" textLength="10.5" lengthAdjust="spacingAndGlyphs">270</text>
<text x="696.2" y="575.2" textLength="10.5" lengthAdjust="spacingAndGlyphs">173</text>
<text x="698.9" y="582.0" textLength="10.5" lengthAdjust="spacingAndGlyphs">126</text>
<text x="701.6" y="546.7" textLength="10.5" lengthAdjust="spacingAndGlyphs">371</text>
<text x="704.3" y="545.1" textLength="10.5" lengthAdjust="spacingAndGlyphs">382</text>
<text x="707.0" y="552.1" textLength="10.5" lengthAdjust="spacingAndGlyphs">333</text>
<text x="709.7" y="551.6" textLength="10.5" lengthAdjust="spacingAndGlyphs">337</text>
<text x="712.4" y="539.3" textLength="10.5" lengthAdjust="spacingAndGlyphs">422</text>
<text x="715.1" y="562.7" textLength="10.5" lengthAdjust="spacingAndGlyphs">260</text>
<text x="717.8" y="577.7" textLength="10.5" lengthAdjust="spacingAndGlyphs">156</text>
<text x="720.5" y="544.2" textLength="10.5" lengthAdjust="spacingAndGlyphs">388</text>
<text x="723.2" y="548.0" textLength="10.5" lengthAdjust="spacingAndGlyphs">362</text>
<text x="725.9" y="553.7" textLength="10.5" lengthAdjust="spacingAndGlyphs">322</text>
<text x="728.6" y="555.2" textLength="10.5" lengthAdjust="spacingAndGlyphs">312</text>
<text x="731.3" y="547.4" textLength="10.5" lengthAdjust="spacingAndGlyphs">366</text>
<text x="734.0" y="559.1" textLength="10.5" lengthAdjust="spacingAndGlyphs">285</text>
<text x="736.7" y="573.6" textLength="10.5" lengthAdjust="spacingAndGlyphs">184</text>
<text x="739.4" y="538.2" textLength="10.5" lengthAdjust="spacingAndGlyphs">430</text>
<text x="742.1" y="541.0" textLength="10.5" lengthAdjust="spacingAndGlyphs">410</text>
<text x="744.8" y="540.2" textLength="10.5" lengthAdjust="spacingAndGlyphs">416</text>
<text x="747.5" y="539.4" textLength="10.5" lengthAdjust="spacingAndGlyphs">421</text>
<text x="750.2" y="549.1" textLength="10.5" lengthAdjust="spacingAndGlyphs">354</text>
<text x="752.9" y="567.6" textLength="10.5" lengthAdjust="spacingAndGlyphs">226</text>
<text x="755.5" y="565.0" textLength="10.5" lengthAdjust="spacingAndGlyphs">244</text>
<text x="758.2" y="537.3" textLength="10.5" lengthAdjust="spacingAndGlyphs">436</text>
<text x="760.9" y="537.9" textLength="10.5" lengthAdjust="spacingAndGlyphs">432</text>
<text x="763.6" y="538.6" textLength="10.5" lengthAdjust="spacingAndGlyphs">427</text>
<text x="766.3" y="539.6" textLength="10.5" lengthAdjust="spacingAndGlyphs">420</text>
<text x="769.0" y="542.8" textLength="10.5" lengthAdjust="spacingAndGlyphs">398</text>
<text x="771.7" y="567.2" textLength="10.5" lengthAdjust="spacingAndGlyphs">229</text>
<text x="774.4" y="573.1" textLength="10.5" lengthAdjust="spacingAndGlyphs">188</text>
<text x="777.1" y="526.9" textLength="10.5" lengthAdjust="spacingAndGlyphs">508</text>
<text x="779.8" y="535.7" textLength="10.5" lengthAdjust="spacingAndGlyphs">447</text>
<text x="782.5" y="529.1" textLength="10.5" lengthAdjust="spacingAndGlyphs">493</text>
<text x="785.2" y="524.7" textLength="10.5" lengthAdjust="spacingAndGlyphs">523</text>
<text x="787.9" y="505.3" textLength="10.5" lengthAdjust="spacingAndGlyphs">658</text>
<text x="790.6" y="531.5" textLength="10.5" lengthAdjust="spacingAndGlyphs">476</text>
<text x="793.3" y="561.4" textLength="10.5" lengthAdjust="spacingAndGlyphs">269</text>
<text x="796.0" y="475.2" textLength="10.5" lengthAdjust="spacingAndGlyphs">866</text>
<text x="798.7" y="480.4" textLength="10.5" lengthAdjust="spacingAndGlyphs">830</text>
<text x="801.4" y="466.9" textLength="10.5" lengthAdjust="spacingAndGlyphs">924</text>
<text x="804.1" y="458.4" textLength="10.5" lengthAdjust="spacingAndGlyphs">983</text>
<text x="806.8" y="435.6" textLength="14.0" lengthAdjust="spacingAndGlyphs">1141</text>
<text x="809.5" y="482.0" textLength="10.5" lengthAdjust="spacingAndGlyphs">819</text>
<text x="812.2" y="500.8" textLength="10.5" lengthAdjust="spacingAndGlyphs">689</text>
<text x="814.9" y="385.6" textLength="14.0" lengthAdjust="spacingAndGlyphs">1487</text>
<text x="817.6" y="335.7" textLength="14.0" lengthAdjust="spacingAndGlyphs">1833</text>
<text x="820.3" y="475.7" textLength="10.5" lengthAdjust="spacingAndGlyphs">863</text>
<text x="823.0" y="276.2" textLength="14.0" lengthAdjust="spacingAndGlyphs">2245</text>
<text x="825.7" y="247.7" textLength="14.0" lengthAdjust="spacingAndGlyphs">2443</text>
<text x="828.4" y="417.9" textLength="14.0" lengthAdjust="spacingAndGlyphs">1263</text>
<text x="831.1" y="446.1" textLength="14.0" lengthAdjust="spacingAndGlyphs">1068</text>
<text x="833.8" y="159.4" textLength="14.0" lengthAdjust="spacingAndGlyphs">3055</text>
<text x="836.5" y="196.3" textLength="14.0" lengthAdjust="spacingAndGlyphs">2799</text>
<text x="839.2" y="198.9" textLength="14.0" lengthAdjust="spacingAndGlyphs">2781</text>
<text x="841.9" y="163.0" textLength="14.0" lengthAdjust="spacingAndGlyphs">3030</text>
<text x="844.5" y="203.4" textLength="14.0" lengthAdjust="spacingAndGlyphs">2750</text>
<text x="847.2" y="370.2" textLength="14.0" lengthAdjust="spacingAndGlyphs">1594</text>
<text x="849.9" y="445.1" textLength="14.0" lengthAdjust="spacingAndGlyphs">1075</text>
<text x="852.6" y="80.1" textLength="14.0" lengthAdjust="spacingAndGlyphs">3604</text>
<text x="855.3" y="154.0" textLength="14.0" lengthAdjust="spacingAndGlyphs">3092</text>
<text x="858.0" y="160.4" textLength="14.0" lengthAdjust="spacingAndGlyphs">3048</text>
<text x="860.7" y="171.3" textLength="14.0" lengthAdjust="spacingAndGlyphs">2972</text>
<text x="863.4" y="193.7" textLength="14.0" lengthAdjust="spacingAndGlyphs">2817</text>
<text x="866.1" y="379.1" textLength="14.0" lengthAdjust="spacingAndGlyphs">1532</text>
<text x="868.8" y="449.7" textLength="14.0" lengthAdjust="spacingAndGlyphs">1043</text>
<text x="871.5" y="87.1" textLength="14.0" lengthAdjust="spacingAndGlyphs">3556</text>
<text x="874.2" y="154.0" textLength="14.0" lengthAdjust="spacingAndGlyphs">3092</text>
<text x="876.9" y="200.8" textLength="14.0" lengthAdjust="spacingAndGlyphs">2768</text>
<text x="879.6" y="240.0" textLength="14.0" lengthAdjust="spacingAndGlyphs">2496</text>
<text x="882.3" y="275.5" textLength="14.0" lengthAdjust="spacingAndGlyphs">2250</text>
<text x="885.0" y="421.3" textLength="14.0" lengthAdjust="spacingAndGlyphs">1240</text>
<text x="887.7" y="477.7" textLength="10.5" lengthAdjust="spacingAndGlyphs">849</text>
<text x="890.4" y="234.4" textLength="14.0" lengthAdjust="spacingAndGlyphs">2535</text>
<text x="893.1" y="301.8" textLength="14.0" lengthAdjust="spacingAndGlyphs">2068</text>
<text x="895.8" y="337.7" textLength="14.0" lengthAdjust="spacingAndGlyphs">1819</text>
<text x="898.5" y="350.1" textLength="14.0" lengthAdjust="spacingAndGlyphs">1733</text>
<text x="901.2" y="337.0" textLength="14.0" lengthAdjust="spacingAndGlyphs">1824</text>
<text x="903.9" y="444.5" textLength="14.0" lengthAdjust="spacingAndGlyphs">1079</text>
<text x="906.6" y="444.6" textLength="14.0" lengthAdjust="spacingAndGlyphs">1078</text>
<text x="909.3" y="247.2" textLength="14.0" lengthAdjust="spacingAndGlyphs">2446</text>
<text x="912.0" y="327.3" textLength="14.0" lengthAdjust="spacingAndGlyphs">1891</text>
<text x="914.7" y="344.8" textLength="14.0" lengthAdjust="spacingAndGlyphs">1770</text>
<text x="917.4" y="383.3" textLength="14.0" lengthAdjust="spacingAndGlyphs">1503</text>
<text x="920.1" y="379.9" textLength="14.0" lengthAdjust="spacingAndGlyphs">1527</text>
<text x="922.8" y="477.8" textLength="10.5" lengthAdjust="spacingAndGlyphs">848</text>
<text x="925.5" y="515.2" textLength="10.5" lengthAdjust="spacingAndGlyphs">589</text>
<text x="928.2" y="335.4" textLength="14.0" lengthAdjust="spacingAndGlyphs">1835</text>
<text x="930.9" y="378.6" textLength="14.0" lengthAdjust="spacingAndGlyphs">1536</text>
<text x="933.6" y="400.5" textLength="14.0" lengthAdjust="spacingAndGlyphs">1384</text>
<text x="936.2" y="435.4" textLength="14.0" lengthAdjust="spacingAndGlyphs">1142</text>
<text x="938.9" y="413.9" textLength="14.0" lengthAdjust="spacingAndGlyphs">1291</text>
<text x="941.6" y="516.2" textLength="10.5" lengthAdjust="spacingAndGlyphs">582</text>
<text x="944.3" y="536.4" textLength="10.5" lengthAdjust="spacingAndGlyphs">442</text>
<text x="947.0" y="398.9" textLength="14.0" lengthAdjust="spacingAndGlyphs">1395</text>
<text x="949.7" y="452.0" textLength="14.0" lengthAdjust="spacingAndGlyphs">1027</text>
<text x="952.4" y="471.9" textLength="10.5" lengthAdjust="spacingAndGlyphs">889</text>
<text x="955.1" y="468.6" textLength="10.5" lengthAdjust="spacingAndGlyphs">912</text>
<text x="957.8" y="461.7" textLength="10.5" lengthAdjust="spacingAndGlyphs">960</text>
<text x="960.5" y="531.8" textLength="10.5" lengthAdjust="spacingAndGlyphs">474</text>
<text x="963.2" y="553.6" textLength="10.5" lengthAdjust="spacingAndGlyphs">323</text>
<text x="965.9" y="433.1" textLength="14.0" lengthAdjust="spacingAndGlyphs">1158</text>
<text x="968.6" y="479.4" textLength="10.5" lengthAdjust="spacingAndGlyphs">837</text>
<text x="971.3" y="488.1" textLength="10.5" lengthAdjust="spacingAndGlyphs">777</text>
<text x="974.0" y="510.4" textLength="10.5" lengthAdjust="spacingAndGlyphs">622</text>
<text x="976.7" y="572.2" textLength="10.5" lengthAdjust="spacingAndGlyphs">194</text>
<text x="979.4" y="550.3" textLength="10.5" lengthAdjust="spacingAndGlyphs">346</text>
<text x="982.1" y="550.6" textLength="10.5" lengthAdjust="spacingAndGlyphs">344</text>
<text x="984.8" y="431.4" textLength="14.0" lengthAdjust="spacingAndGlyphs">1170</text>
<text x="987.5" y="475.7" textLength="10.5" lengthAdjust="spacingAndGlyphs">863</text>
<text x="990.2" y="481.3" textLength="10.5" lengthAdjust="spacingAndGlyphs">824</text>
<text x="992.9" y="505.7" textLength="10.5" lengthAdjust="spacingAndGlyphs">655</text>
<text x="995.6" y="571.1" textLength="10.5" lengthAdjust="spacingAndGlyphs">202</text>
<text x="998.3" y="538.7" textLength="10.5" lengthAdjust="spacingAndGlyphs">426</text>
<text x="1001.0" y="554.9" textLength="10.5" lengthAdjust="spacingAndGlyphs">314</text>
<text x="1003.7" y="440.2" textLength="14.0" lengthAdjust="spacingAndGlyphs">1109</text>
<text x="1006.4" y="480.9" textLength="10.5" lengthAdjust="spacingAndGlyphs">827</text>
<text x="1009.1" y="562.5" textLength="10.5" lengthAdjust="spacingAndGlyphs">261</text>
<text x="1011.8" y="477.1" textLength="10.5" lengthAdjust="spacingAndGlyphs">853</text>
<text x="1014.5" y="484.5" textLength="10.5" lengthAdjust="spacingAndGlyphs">802</text>
<text x="1017.2" y="538.6" textLength="10.5" lengthAdjust="spacingAndGlyphs">427</text>
<text x="1019.9" y="559.9" textLength="10.5" lengthAdjust="spacingAndGlyphs">279</text>
<text x="1022.6" y="476.2" textLength="10.5" lengthAdjust="spacingAndGlyphs">859</text>
<text x="1025.2" y="510.9" textLength="10.5" lengthAdjust="spacingAndGlyphs">619</text>
<text x="1027.9" y="524.7" textLength="10.5" lengthAdjust="spacingAndGlyphs">523</text>
<text x="1030.6" y="518.7" textLength="10.5" lengthAdjust="spacingAndGlyphs">565</text>
<text x="1033.3" y="521.6" textLength="10.5" lengthAdjust="spacingAndGlyphs">545</text>
<text x="1036.0" y="565.0" textLength="10.5" lengthAdjust="spacingAndGlyphs">244</text>
<text x="1038.7" y="575.8" textLength="10.5" lengthAdjust="spacingAndGlyphs">169</text>
<text x="1041.4" y="523.3" textLength="10.5" lengthAdjust="spacingAndGlyphs">533</text>
<text x="1044.1" y="518.5" textLength="10.5" lengthAdjust="spacingAndGlyphs">566</text>
<text x="1046.8" y="528.2" textLength="10.5" lengthAdjust="spacingAndGlyphs">499</text>
<text x="1049.5" y="518.1" textLength="10.5" lengthAdjust="spacingAndGlyphs">569</text>
<text x="1052.2" y="510.6" textLength="10.5" lengthAdjust="spacingAndGlyphs">621</text>
<text x="1054.9" y="550.1" textLength="10.5" lengthAdjust="spacingAndGlyphs">347</text>
<text x="1057.6" y="573.8" textLength="10.5" lengthAdjust="spacingAndGlyphs">183</text>
<text x="1060.3" y="444.9" textLength="14.0" lengthAdjust="spacingAndGlyphs">1076</text>
<text x="1063.0" y="476.4" textLength="10.5" lengthAdjust="spacingAndGlyphs">858</text>
<text x="1065.7" y="491.8" textLength="10.5" lengthAdjust="spacingAndGlyphs">751</text>
<text x="1068.4" y="475.7" textLength="10.5" lengthAdjust="spacingAndGlyphs">863</text>
<text x="1071.1" y="470.6" textLength="10.5" lengthAdjust="spacingAndGlyphs">898</text>
<text x="1073.8" y="531.4" textLength="10.5" lengthAdjust="spacingAndGlyphs">477</text>
<text x="1076.5" y="539.9" textLength="10.5" lengthAdjust="spacingAndGlyphs">418</text>
<text x="1079.2" y="402.1" textLength="14.0" lengthAdjust="spacingAndGlyphs">1373</text>
<text x="1081.9" y="435.1" textLength="14.0" lengthAdjust="spacingAndGlyphs">1144</text>
<text x="1084.6" y="453.9" textLength="14.0" lengthAdjust="spacingAndGlyphs">1014</text>
<text x="1087.3" y="429.2" textLength="14.0" lengthAdjust="spacingAndGlyphs">1185</text>
<text x="1090.0" y="411.2" textLength="14.0" lengthAdjust="spacingAndGlyphs">1310</text>
<text x="1092.7" y="502.9" textLength="10.5" lengthAdjust="spacingAndGlyphs">674</text>
<text x="1095.4" y="531.9" textLength="10.5" lengthAdjust="spacingAndGlyphs">473</text>
<text x="1098.1" y="359.4" textLength="14.0" lengthAdjust="spacingAndGlyphs">1669</text>
<text x="1100.8" y="389.2" textLength="14.0" lengthAdjust="spacingAndGlyphs">1462</text>
<text x="1103.5" y="407.4" textLength="14.0" lengthAdjust="spacingAndGlyphs">1336</text>
<text x="1106.2" y="407.6" textLength="14.0" lengthAdjust="spacingAndGlyphs">1335</text>
<text x="1108.9" y="410.3" textLength="14.0" lengthAdjust="spacingAndGlyphs">1316</text>
<text x="1111.6" y="500.2" textLength="10.5" lengthAdjust="spacingAndGlyphs">693</text>
<text x="1114.2" y="547.2" textLength="10.5" lengthAdjust="spacingAndGlyphs">367</text>
<text x="1116.9" y="410.6" textLength="14.0" lengthAdjust="spacingAndGlyphs">1314</text>
<text x="1119.6" y="511.2" textLength="10.5" lengthAdjust="spacingAndGlyphs">617</text>
<text x="1122.3" y="439.2" textLength="14.0" lengthAdjust="spacingAndGlyphs">1116</text>
</g>
<g font-size="15.8" font-weight="bold" text-anchor="middle" fill="#FF0000" stroke="#FF0000" stroke-width="0.6">
<text x="830.1" y="470.2" textLength="43.6" lengthAdjust="spacingAndGlyphs">43857</text>
<text x="875.5" y="338.4" textLength="43.6" lengthAdjust="spacingAndGlyphs">88465</text>
<text x="1121.0" y="79.6" textLength="54.5" lengthAdjust="spacingAndGlyphs">176059</text>
</g>
<g fill="#FF0000">
<circle cx="159.51" cy="610.59" r="5.85"/>
<circle cx="162.21" cy="610.59" r="5.85"/>
<circle cx="164.91" cy="610.59" r="5.85"/>
<circle cx="167.60" cy="610.58" r="5.85"/>
<circle cx="170.30" cy="610.58" r="5.85"/>
<circle cx="173.00" cy="610.58" r="5.85"/>
<circle cx="175.69" cy="610.58" r="5.85"/>
<circle cx="178.39" cy="610.57" r="5.85"/>
<circle cx="181.09" cy="610.43" r="5.85"/>
<circle cx="183.79" cy="610.40" r="5.85"/>
<circle cx="186.48" cy="610.38" r="5.85"/>
<circle cx="189.18" cy="610.35" r="5.85"/>
<circle cx="191.88" cy="610.29" r="5.85"/>
<circle cx="194.57" cy="610.22" r="5.85"/>
<circle cx="197.27" cy="610.13" r="5.85"/>
<circle cx="199.97" cy="609.94" r="5.85"/>
<circle cx="202.66" cy="609.73" r="5.85"/>
<circle cx="205.36" cy="609.53" r="5.85"/>
<circle cx="208.06" cy="609.44" r="5.85"/>
<circle cx="210.75" cy="609.26" r="5.85"/>
<circle cx="213.45" cy="609.14" r="5.85"/>
<circle cx="216.15" cy="608.97" r="5.85"/>
<circle cx="218.85" cy="608.77" r="5.85"/>
<circle cx="221.54" cy="608.55" r="5.85"/>
<circle cx="224.24" cy="608.41" r="5.85"/>
<circle cx="226.94" cy="608.32" r="5.85"/>
<circle cx="229.63" cy="607.99" r="5.85"/>
<circle cx="232.33" cy="607.71" r="5.85"/>
<circle cx="235.03" cy="607.57" r="5.85"/>
<circle cx="237.73" cy="607.28" r="5.85"/>
<circle cx="240.42" cy="607.02" r="5.85"/>
<circle cx="243.12" cy="606.85" r="5.85"/>
<circle cx="245.82" cy="606.72" r="5.85"/>
<circle cx="248.51" cy="606.41" r="5.85"/>
<circle cx="251.21" cy="605.94" r="5.85"/>
<circle cx="253.91" cy="605.74" r="5.85"/>
<circle cx="256.60" cy="605.54" r="5.85"/>
<circle cx="259.30" cy="605.36" r="5.85"/>
<circle cx="262.00" cy="605.25" r="5.85"/>
<circle cx="264.69" cy="605.10" r="5.85"/>
<circle cx="267.39" cy="604.94" r="5.85"/>
<circle cx="270.09" cy="604.74" r="5.85"/>
<circle cx="272.79" cy="604.57" r="5.85"/>
<circle cx="275.48" cy="604.45" r="5.85"/>
<circle cx="278.18" cy="604.31" r="5.85"/>
<circle cx="280.88" cy="604.22" r="5.85"/>
<circle cx="283.57" cy="604.14" r="5.85"/>
<circle cx="286.27" cy="604.07" r="5.85"/>
<circle cx="288.97" cy="603.98" r="5.85"/>
<circle cx="291.67" cy="603.91" r="5.85"/>
<circle cx="294.36" cy="603.85" r="5.85"/>
<circle cx="297.06" cy="603.80" r="5.85"/>
<circle cx="299.76" cy="603.77" r="5.85"/>
<circle cx="302.45" cy="603.74" r="5.85"/>
<circle cx="305.15" cy="603.27" r="5.85"/>
<circle cx="307.85" cy="603.11" r="5.85"/>
<circle cx="310.54" cy="603.03" r="5.85"/>
<circle cx="313.24" cy="602.93" r="5.85"/>
<circle cx="315.94" cy="602.86" r="5.85"/>
<circle cx="318.63" cy="602.83" r="5.85"/>
<circle cx="321.33" cy="602.80" r="5.85"/>
<circle cx="324.03" cy="602.74" r="5.85"/>
<circle cx="326.73" cy="602.66" r="5.85"/>
<circle cx="329.42" cy="602.60" r="5.85"/>
<circle cx="332.12" cy="602.57" r="5.85"/>
<circle cx="334.82" cy="602.55" r="5.85"/>
<circle cx="337.51" cy="602.53" r="5.85"/>
<circle cx="340.21" cy="602.51" r="5.85"/>
<circle cx="342.91" cy="602.48" r="5.85"/>
<circle cx="345.61" cy="602.41" r="5.85"/>
<circle cx="348.30" cy="602.36" r="5.85"/>
<circle cx="351.00" cy="602.32" r="5.85"/>
<circle cx="353.70" cy="602.29" r="5.85"/>
<circle cx="356.39" cy="602.27" r="5.85"/>
<circle cx="359.09" cy="602.25" r="5.85"/>
<circle cx="361.79" cy="602.21" r="5.85"/>
<circle cx="364.48" cy="602.16" r="5.85"/>
<circle cx="367.18" cy="602.03" r="5.85"/>
<circle cx="369.88" cy="601.98" r="5.85"/>
<circle cx="372.58" cy="601.95" r="5.85"/>
<circle cx="375.27" cy="601.94" r="5.85"/>
<circle cx="377.97" cy="601.93" r="5.85"/>
<circle cx="380.67" cy="601.89" r="5.85"/>
<circle cx="383.36" cy="601.86" r="5.85"/>
<circle cx="386.06" cy="601.83" r="5.85"/>
<circle cx="388.76" cy="601.81" r="5.85"/>
<circle cx="391.45" cy="601.79" r="5.85"/>
<circle cx="394.15" cy="601.78" r="5.85"/>
<circle cx="396.85" cy="601.77" r="5.85"/>
<circle cx="399.55" cy="601.75" r="5.85"/>
<circle cx="402.24" cy="601.73" r="5.85"/>
<circle cx="404.94" cy="601.72" r="5.85"/>
<circle cx="407.64" cy="601.69" r="5.85"/>
<circle cx="410.33" cy="601.67" r="5.85"/>
<circle cx="413.03" cy="601.66" r="5.85"/>
<circle cx="415.73" cy="601.64" r="5.85"/>
<circle cx="418.42" cy="601.60" r="5.85"/>
<circle cx="421.12" cy="601.58" r="5.85"/>
<circle cx="423.82" cy="601.53" r="5.85"/>
<circle cx="426.52" cy="601.46" r="5.85"/>
<circle cx="429.21" cy="601.40" r="5.85"/>
<circle cx="431.91" cy="601.37" r="5.85"/>
<circle cx="434.61" cy="601.36" r="5.85"/>
<circle cx="437.30" cy="601.28" r="5.85"/>
<circle cx="440.00" cy="601.21" r="5.85"/>
<circle cx="442.70" cy="601.16" r="5.85"/>
<circle cx="445.39" cy="601.10" r="5.85"/>
<circle cx="448.09" cy="601.06" r="5.85"/>
<circle cx="450.79" cy="601.03" r="5.85"/>
<circle cx="453.49" cy="601.02" r="5.85"/>
<circle cx="456.18" cy="600.97" r="5.85"/>
<circle cx="458.88" cy="600.91" r="5.85"/>
<circle cx="461.58" cy="600.89" r="5.85"/>
<circle cx="464.27" cy="600.83" r="5.85"/>
<circle cx="466.97" cy="600.78" r="5.85"/>
<circle cx="469.67" cy="600.76" r="5.85"/>
<circle cx="472.36" cy="600.74" r="5.85"/>
<circle cx="475.06" cy="600.68" r="5.85"/>
<circle cx="477.76" cy="600.63" r="5.85"/>
<circle cx="480.46" cy="600.57" r="5.85"/>
<circle cx="483.15" cy="600.51" r="5.85"/>
<circle cx="485.85" cy="600.46" r="5.85"/>
<circle cx="488.55" cy="600.43" r="5.85"/>
<circle cx="491.24" cy="600.41" r="5.85"/>
<circle cx="493.94" cy="600.36" r="5.85"/>
<circle cx="496.64" cy="600.29" r="5.85"/>
<circle cx="499.33" cy="600.22" r="5.85"/>
<circle cx="502.03" cy="600.14" r="5.85"/>
<circle cx="504.73" cy="600.07" r="5.85"/>
<circle cx="507.43" cy="600.01" r="5.85"/>
<circle cx="510.12" cy="599.98" r="5.85"/>
<circle cx="512.82" cy="599.86" r="5.85"/>
<circle cx="515.52" cy="599.77" r="5.85"/>
<circle cx="518.21" cy="599.66" r="5.85"/>
<circle cx="520.91" cy="599.56" r="5.85"/>
<circle cx="523.61" cy="599.46" r="5.85"/>
<circle cx="526.30" cy="599.39" r="5.85"/>
<circle cx="529.00" cy="599.34" r="5.85"/>
<circle cx="531.70" cy="599.23" r="5.85"/>
<circle cx="534.39" cy="599.11" r="5.85"/>
<circle cx="537.09" cy="599.01" r="5.85"/>
<circle cx="539.79" cy="598.92" r="5.85"/>
<circle cx="542.49" cy="598.84" r="5.85"/>
<circle cx="545.18" cy="598.81" r="5.85"/>
<circle cx="547.88" cy="598.75" r="5.85"/>
<circle cx="550.58" cy="598.64" r="5.85"/>
<circle cx="553.27" cy="598.55" r="5.85"/>
<circle cx="555.97" cy="598.45" r="5.85"/>
<circle cx="558.67" cy="598.35" r="5.85"/>
<circle cx="561.37" cy="598.26" r="5.85"/>
<circle cx="564.06" cy="598.18" r="5.85"/>
<circle cx="566.76" cy="598.11" r="5.85"/>
<circle cx="569.46" cy="597.91" r="5.85"/>
<circle cx="572.15" cy="597.68" r="5.85"/>
<circle cx="574.85" cy="597.37" r="5.85"/>
<circle cx="577.55" cy="596.99" r="5.85"/>
<circle cx="580.24" cy="596.66" r="5.85"/>
<circle cx="582.94" cy="596.43" r="5.85"/>
<circle cx="585.64" cy="596.25" r="5.85"/>
<circle cx="588.34" cy="595.89" r="5.85"/>
<circle cx="591.03" cy="595.42" r="5.85"/>
<circle cx="593.73" cy="594.92" r="5.85"/>
<circle cx="596.43" cy="594.31" r="5.85"/>
<circle cx="599.12" cy="593.79" r="5.85"/>
<circle cx="601.82" cy="593.37" r="5.85"/>
<circle cx="604.52" cy="593.05" r="5.85"/>
<circle cx="607.21" cy="592.31" r="5.85"/>
<circle cx="609.91" cy="591.69" r="5.85"/>
<circle cx="612.61" cy="590.97" r="5.85"/>
<circle cx="615.31" cy="590.31" r="5.85"/>
<circle cx="618.00" cy="589.46" r="5.85"/>
<circle cx="620.70" cy="588.94" r="5.85"/>
<circle cx="623.40" cy="588.34" r="5.85"/>
<circle cx="626.09" cy="587.61" r="5.85"/>
<circle cx="628.79" cy="586.77" r="5.85"/>
<circle cx="631.49" cy="585.97" r="5.85"/>
<circle cx="634.18" cy="585.11" r="5.85"/>
<circle cx="636.88" cy="584.20" r="5.85"/>
<circle cx="639.58" cy="583.74" r="5.85"/>
<circle cx="642.28" cy="583.29" r="5.85"/>
<circle cx="644.97" cy="582.51" r="5.85"/>
<circle cx="647.67" cy="581.69" r="5.85"/>
<circle cx="650.37" cy="581.05" r="5.85"/>
<circle cx="653.06" cy="580.44" r="5.85"/>
<circle cx="655.76" cy="579.88" r="5.85"/>
<circle cx="658.46" cy="579.35" r="5.85"/>
<circle cx="661.15" cy="578.93" r="5.85"/>
<circle cx="663.85" cy="578.25" r="5.85"/>
<circle cx="666.55" cy="577.59" r="5.85"/>
<circle cx="669.25" cy="576.85" r="5.85"/>
<circle cx="671.94" cy="576.13" r="5.85"/>
<circle cx="674.64" cy="575.52" r="5.85"/>
<circle cx="677.34" cy="575.13" r="5.85"/>
<circle cx="680.03" cy="574.84" r="5.85"/>
<circle cx="682.73" cy="574.07" r="5.85"/>
<circle cx="685.43" cy="573.11" r="5.85"/>
<circle cx="688.12" cy="572.16" r="5.85"/>
<circle cx="690.82" cy="571.30" r="5.85"/>
<circle cx="693.52" cy="570.50" r="5.85"/>
<circle cx="696.21" cy="569.98" r="5.85"/>
<circle cx="698.91" cy="569.60" r="5.85"/>
<circle cx="701.61" cy="568.53" r="5.85"/>
<circle cx="704.31" cy="567.42" r="5.85"/>
<circle cx="707.00" cy="566.46" r="5.85"/>
<circle cx="709.70" cy="565.48" r="5.85"/>
<circle cx="712.40" cy="564.26" r="5.85"/>
<circle cx="715.09" cy="563.51" r="5.85"/>
<circle cx="717.79" cy="563.07" r="5.85"/>
<circle cx="720.49" cy="561.95" r="5.85"/>
<circle cx="723.18" cy="560.90" r="5.85"/>
<circle cx="725.88" cy="559.97" r="5.85"/>
<circle cx="728.58" cy="559.07" r="5.85"/>
<circle cx="731.28" cy="558.01" r="5.85"/>
<circle cx="733.97" cy="557.19" r="5.85"/>
<circle cx="736.67" cy="556.67" r="5.85"/>
<circle cx="739.37" cy="555.42" r="5.85"/>
<circle cx="742.06" cy="554.23" r="5.85"/>
<circle cx="744.76" cy="553.02" r="5.85"/>
<circle cx="747.46" cy="551.80" r="5.85"/>
<circle cx="750.15" cy="550.77" r="5.85"/>
<circle cx="752.85" cy="550.13" r="5.85"/>
<circle cx="755.55" cy="549.43" r="5.85"/>
<circle cx="758.25" cy="548.16" r="5.85"/>
<circle cx="760.94" cy="546.91" r="5.85"/>
<circle cx="763.64" cy="545.67" r="5.85"/>
<circle cx="766.34" cy="544.45" r="5.85"/>
<circle cx="769.03" cy="543.29" r="5.85"/>
<circle cx="771.73" cy="542.64" r="5.85"/>
<circle cx="774.43" cy="542.10" r="5.85"/>
<circle cx="777.12" cy="540.62" r="5.85"/>
<circle cx="779.82" cy="539.32" r="5.85"/>
<circle cx="782.52" cy="537.89" r="5.85"/>
<circle cx="785.22" cy="536.37" r="5.85"/>
<circle cx="787.91" cy="534.44" r="5.85"/>
<circle cx="790.61" cy="533.06" r="5.85"/>
<circle cx="793.31" cy="532.29" r="5.85"/>
<circle cx="796.00" cy="529.75" r="5.85"/>
<circle cx="798.70" cy="527.32" r="5.85"/>
<circle cx="801.40" cy="524.61" r="5.85"/>
<circle cx="804.10" cy="521.73" r="5.85"/>
<circle cx="806.79" cy="518.38" r="5.85"/>
<circle cx="809.49" cy="515.98" r="5.85"/>
<circle cx="812.19" cy="513.96" r="5.85"/>
<circle cx="814.88" cy="509.59" r="5.85"/>
<circle cx="817.58" cy="504.20" r="5.85"/>
<circle cx="820.28" cy="501.67" r="5.85"/>
<circle cx="822.97" cy="495.06" r="5.85"/>
<circle cx="825.67" cy="487.86" r="5.85"/>
<circle cx="828.37" cy="484.15" r="5.85"/>
<circle cx="831.07" cy="481.02" r="5.85"/>
<circle cx="833.76" cy="471.99" r="5.85"/>
<circle cx="836.46" cy="463.72" r="5.85"/>
<circle cx="839.16" cy="455.50" r="5.85"/>
<circle cx="841.85" cy="446.55" r="5.85"/>
<circle cx="844.55" cy="438.42" r="5.85"/>
<circle cx="847.25" cy="433.71" r="5.85"/>
<circle cx="849.94" cy="430.54" r="5.85"/>
<circle cx="852.64" cy="419.89" r="5.85"/>
<circle cx="855.34" cy="410.75" r="5.85"/>
<circle cx="858.04" cy="401.75" r="5.85"/>
<circle cx="860.73" cy="392.97" r="5.85"/>
<circle cx="863.43" cy="384.64" r="5.85"/>
<circle cx="866.13" cy="380.12" r="5.85"/>
<circle cx="868.82" cy="377.03" r="5.85"/>
<circle cx="871.52" cy="366.53" r="5.85"/>
<circle cx="874.22" cy="357.39" r="5.85"/>
<circle cx="876.91" cy="349.21" r="5.85"/>
<circle cx="879.61" cy="341.84" r="5.85"/>
<circle cx="882.31" cy="335.19" r="5.85"/>
<circle cx="885.01" cy="331.53" r="5.85"/>
<circle cx="887.70" cy="329.02" r="5.85"/>
<circle cx="890.40" cy="321.53" r="5.85"/>
<circle cx="893.10" cy="315.42" r="5.85"/>
<circle cx="895.79" cy="310.05" r="5.85"/>
<circle cx="898.49" cy="304.93" r="5.85"/>
<circle cx="901.19" cy="299.54" r="5.85"/>
<circle cx="903.88" cy="296.35" r="5.85"/>
<circle cx="906.58" cy="293.16" r="5.85"/>
<circle cx="909.28" cy="285.94" r="5.85"/>
<circle cx="911.98" cy="280.35" r="5.85"/>
<circle cx="914.67" cy="275.12" r="5.85"/>
<circle cx="917.37" cy="270.68" r="5.85"/>
<circle cx="920.07" cy="266.17" r="5.85"/>
<circle cx="922.76" cy="263.66" r="5.85"/>
<circle cx="925.46" cy="261.93" r="5.85"/>
<circle cx="928.16" cy="256.50" r="5.85"/>
<circle cx="930.85" cy="251.97" r="5.85"/>
<circle cx="933.55" cy="247.88" r="5.85"/>
<circle cx="936.25" cy="244.50" r="5.85"/>
<circle cx="938.94" cy="240.69" r="5.85"/>
<circle cx="941.64" cy="238.97" r="5.85"/>
<circle cx="944.34" cy="237.66" r="5.85"/>
<circle cx="947.04" cy="233.54" r="5.85"/>
<circle cx="949.73" cy="230.51" r="5.85"/>
<circle cx="952.43" cy="227.88" r="5.85"/>
<circle cx="955.13" cy="225.19" r="5.85"/>
<circle cx="957.82" cy="222.35" r="5.85"/>
<circle cx="960.52" cy="220.95" r="5.85"/>
<circle cx="963.22" cy="220.00" r="5.85"/>
<circle cx="965.91" cy="216.58" r="5.85"/>
<circle cx="968.61" cy="214.10" r="5.85"/>
<circle cx="971.31" cy="211.81" r="5.85"/>
<circle cx="974.01" cy="209.97" r="5.85"/>
<circle cx="976.70" cy="209.40" r="5.85"/>
<circle cx="979.40" cy="208.38" r="5.85"/>
<circle cx="982.10" cy="207.36" r="5.85"/>
<circle cx="984.79" cy="203.90" r="5.85"/>
<circle cx="987.49" cy="201.36" r="5.85"/>
<circle cx="990.19" cy="198.92" r="5.85"/>
<circle cx="992.88" cy="196.99" r="5.85"/>
<circle cx="995.58" cy="196.39" r="5.85"/>
<circle cx="998.28" cy="195.13" r="5.85"/>
<circle cx="1000.98" cy="194.20" r="5.85"/>
<circle cx="1003.67" cy="190.93" r="5.85"/>
<circle cx="1006.37" cy="188.49" r="5.85"/>
<circle cx="1009.07" cy="187.71" r="5.85"/>
<circle cx="1011.76" cy="185.19" r="5.85"/>
<circle cx="1014.46" cy="182.83" r="5.85"/>
<circle cx="1017.16" cy="181.56" r="5.85"/>
<circle cx="1019.86" cy="180.74" r="5.85"/>
<circle cx="1022.55" cy="178.20" r="5.85"/>
<circle cx="1025.25" cy="176.37" r="5.85"/>
<circle cx="1027.95" cy="174.83" r="5.85"/>
<circle cx="1030.64" cy="173.16" r="5.85"/>
<circle cx="1033.34" cy="171.55" r="5.85"/>
<circle cx="1036.04" cy="170.83" r="5.85"/>
<circle cx="1038.73" cy="170.33" r="5.85"/>
<circle cx="1041.43" cy="168.76" r="5.85"/>
<circle cx="1044.13" cy="167.08" r="5.85"/>
<circle cx="1046.83" cy="165.61" r="5.85"/>
<circle cx="1049.52" cy="163.93" r="5.85"/>
<circle cx="1052.22" cy="162.10" r="5.85"/>
<circle cx="1054.92" cy="161.07" r="5.85"/>
<circle cx="1057.61" cy="160.53" r="5.85"/>
<circle cx="1060.31" cy="157.35" r="5.85"/>
<circle cx="1063.01" cy="154.82" r="5.85"/>
<circle cx="1065.70" cy="152.60" r="5.85"/>
<circle cx="1068.40" cy="150.05" r="5.85"/>
<circle cx="1071.10" cy="147.40" r="5.85"/>
<circle cx="1073.80" cy="145.99" r="5.85"/>
<circle cx="1076.49" cy="144.75" r="5.85"/>
<circle cx="1079.19" cy="140.70" r="5.85"/>
<circle cx="1081.89" cy="137.32" r="5.85"/>
<circle cx="1084.58" cy="134.32" r="5.85"/>
<circle cx="1087.28" cy="130.82" r="5.85"/>
<circle cx="1089.98" cy="126.95" r="5.85"/>
<circle cx="1092.67" cy="124.96" r="5.85"/>
<circle cx="1095.37" cy="123.56" r="5.85"/>
<circle cx="1098.07" cy="118.63" r="5.85"/>
<circle cx="1100.77" cy="114.31" r="5.85"/>
<circle cx="1103.46" cy="110.36" r="5.85"/>
<circle cx="1106.16" cy="106.42" r="5.85"/>
<circle cx="1108.86" cy="102.53" r="5.85"/>
<circle cx="1111.55" cy="100.49" r="5.85"/>
<circle cx="1114.25" cy="99.40" r="5.85"/>
<circle cx="1116.95" cy="95.52" r="5.85"/>
<circle cx="1119.64" cy="93.70" r="5.85"/>
<circle cx="1122.34" cy="90.40" r="5.85"/>
</g>
<g stroke="#000" stroke-width="1.45" fill="none">
<path d="M121.05 69.9V631.2H1161.2"/>
<path d="M170.30 631.2V641.7"/>
<path d="M334.82 631.2V641.7"/>
<path d="M499.33 631.2V641.7"/>
<path d="M666.55 631.2V641.7"/>
<path d="M831.07 631.2V641.7"/>
<path d="M995.58 631.2V641.7"/>
<path d="M1154.70 631.2V641.7"/>
<path d="M110.5 610.60H121.05"/>
<path d="M110.5 466.30H121.05"/>
<path d="M110.5 322.00H121.05"/>
<path d="M110.5 177.70H121.05"/>
<path d="M1161.2 167.40V610.60"/>
<path d="M1161.2 610.60H1171.9"/>
<path d="M1161.2 462.87H1171.9"/>
<path d="M1161.2 315.13H1171.9"/>
<path d="M1161.2 167.40H1171.9"/>
</g>
<text id="t0" x="110.81" y="42.40" font-size="19.30" font-weight="bold" stroke="#000" stroke-width="0.55" fill="#000" textLength="100.80" lengthAdjust="spacingAndGlyphs">Διάγραμμα</text>
<text id="t1" x="216.56" y="42.40" font-size="19.30" font-weight="bold" stroke="#000" stroke-width="0.55" fill="#000" textLength="17.51" lengthAdjust="spacingAndGlyphs">1:</text>
<text id="t2" x="237.60" y="42.40" font-size="19.30" font-weight="bold" stroke="#000" stroke-width="0.55" fill="#000" textLength="73.41" lengthAdjust="spacingAndGlyphs">Αριθμός</text>
<text id="t3" x="320.40" y="42.40" font-size="19.30" font-weight="bold" stroke="#000" stroke-width="0.55" fill="#000" textLength="130.80" lengthAdjust="spacingAndGlyphs">εργαστηριακά</text>
<text id="t4" x="458.80" y="42.40" font-size="19.30" font-weight="bold" stroke="#000" stroke-width="0.55" fill="#000" textLength="150.80" lengthAdjust="spacingAndGlyphs">επιβεβαιωμένων</text>
<text id="t5" x="618.39" y="42.40" font-size="19.30" font-weight="bold" stroke="#000" stroke-width="0.55" fill="#000" textLength="118.01" lengthAdjust="spacingAndGlyphs">κρουσμάτων</text>
<text id="t6" x="743.40" y="42.40" font-size="19.30" font-weight="bold" stroke="#000" stroke-width="0.55" fill="#000" textLength="84.00" lengthAdjust="spacingAndGlyphs">COVID-19</text>
<text id="t7" x="837.40" y="42.40" font-size="19.30" font-weight="bold" stroke="#000" stroke-width="0.55" fill="#000" textLength="42.40" lengthAdjust="spacingAndGlyphs">στην</text>
<text id="t8" x="885.38" y="42.40" font-size="19.30" font-weight="bold" stroke="#000" stroke-width="0.55" fill="#000" textLength="68.63" lengthAdjust="spacingAndGlyphs">Ελλάδα,</text>
<text id="t9" x="962.60" y="42.40" font-size="19.30" font-weight="bold" stroke="#000" stroke-width="0.55" fill="#000" textLength="23.80" lengthAdjust="spacingAndGlyphs">18</text>
<text id="t10" x="991.80" y="42.40" font-size="19.30" font-weight="bold" stroke="#000" stroke-width="0.55" fill="#000" textLength="128.20" lengthAdjust="spacingAndGlyphs">Φεβρουαρίου</text>
<text id="t11" x="1127.99" y="42.40" font-size="19.30" font-weight="bold" stroke="#000" stroke-width="0.55" fill="#000" textLength="39.83" lengthAdjust="spacingAndGlyphs">2021</text>
<text id="xt0" x="152.17" y="667.90" font-size="16.50" stroke="#000" stroke-width="0.28" fill="#000" textLength="34.64" lengthAdjust="spacingAndGlyphs">Μαρ</text>
<text id="xt1" x="320.02" y="667.90" font-size="16.50" stroke="#000" stroke-width="0.28" fill="#000" textLength="27.86" lengthAdjust="spacingAndGlyphs">Μαΐ</text>
<text id="xt2" x="481.80" y="667.90" font-size="16.50" stroke="#000" stroke-width="0.28" fill="#000" textLength="33.80" lengthAdjust="spacingAndGlyphs">Ιουλ</text>
<text id="xt3" x="652.80" y="667.90" font-size="16.50" stroke="#000" stroke-width="0.28" fill="#000" textLength="26.38" lengthAdjust="spacingAndGlyphs">Σεπ</text>
<text id="xt4" x="816.22" y="667.90" font-size="16.50" stroke="#000" stroke-width="0.28" fill="#000" textLength="29.40" lengthAdjust="spacingAndGlyphs">Νοε</text>
<text id="xt5" x="983.20" y="667.90" font-size="16.50" stroke="#000" stroke-width="0.28" fill="#000" textLength="23.60" lengthAdjust="spacingAndGlyphs">Ιαν</text>
<text id="xt6" x="1136.77" y="667.90" font-size="16.50" stroke="#000" stroke-width="0.28" fill="#000" textLength="34.23" lengthAdjust="spacingAndGlyphs">Μαρ</text>
<text id="xl0" x="521.60" y="708.80" font-size="16.50" stroke="#000" stroke-width="0.28" fill="#000" textLength="94.80" lengthAdjust="spacingAndGlyphs">Ημερομηνία</text>
<text id="xl1" x="625.01" y="708.80" font-size="16.50" stroke="#000" stroke-width="0.28" fill="#000" textLength="49.00" lengthAdjust="spacingAndGlyphs">λήψης</text>
<text id="xl2" x="681.00" y="708.80" font-size="16.50" stroke="#000" stroke-width="0.28" fill="#000" textLength="78.41" lengthAdjust="spacingAndGlyphs">δείγματος</text>
<text id="yt0" x="88.77" y="616.00" font-size="16.50" stroke="#000" stroke-width="0.28" fill="#000" textLength="9.00" lengthAdjust="spacingAndGlyphs">0</text>
<text id="yt1" x="58.78" y="471.70" font-size="16.50" stroke="#000" stroke-width="0.28" fill="#000" textLength="39.01" lengthAdjust="spacingAndGlyphs">1000</text>
<text id="yt2" x="59.80" y="327.40" font-size="16.50" stroke="#000" stroke-width="0.28" fill="#000" textLength="37.99" lengthAdjust="spacingAndGlyphs">2000</text>
<text id="yt3" x="59.80" y="183.10" font-size="16.50" stroke="#000" stroke-width="0.28" fill="#000" textLength="37.99" lengthAdjust="spacingAndGlyphs">3000</text>
<text id="yl0" transform="translate(53.40 457.82) rotate(-90)" font-size="16.50" stroke="#000" stroke-width="0.28" fill="#000" textLength="58.21" lengthAdjust="spacingAndGlyphs">Αριθμός</text>
<text id="yl1" transform="translate(53.40 391.42) rotate(-90)" font-size="16.50" stroke="#000" stroke-width="0.28" fill="#000" textLength="35.99" lengthAdjust="spacingAndGlyphs">νέων</text>
<text id="yl2" transform="translate(53.40 343.40) rotate(-90)" font-size="16.50" stroke="#000" stroke-width="0.28" fill="#000" textLength="101.21" lengthAdjust="spacingAndGlyphs">κρουσμάτων</text>
<text id="rt0" transform="translate(1197.60 615.01) rotate(-90)" font-size="17.10" stroke="#000" stroke-width="0.28" fill="#000" textLength="9.18" lengthAdjust="spacingAndGlyphs">0</text>
<text id="rt1" transform="translate(1197.60 486.06) rotate(-90)" font-size="17.10" stroke="#000" stroke-width="0.28" fill="#000" textLength="46.20" lengthAdjust="spacingAndGlyphs">50000</text>
<text id="rt2" transform="translate(1197.60 343.52) rotate(-90)" font-size="17.10" stroke="#000" stroke-width="0.28" fill="#000" textLength="56.01" lengthAdjust="spacingAndGlyphs">100000</text>
<text id="rt3" transform="translate(1197.60 195.58) rotate(-90)" font-size="17.10" stroke="#000" stroke-width="0.28" fill="#000" textLength="55.99" lengthAdjust="spacingAndGlyphs">150000</text>
<text id="rl0" transform="translate(1239.60 478.21) rotate(-90)" font-size="16.50" stroke="#000" stroke-width="0.28" fill="#000" textLength="77.61" lengthAdjust="spacingAndGlyphs">Συνολικός</text>
<text id="rl1" transform="translate(1239.60 392.39) rotate(-90)" font-size="16.50" stroke="#000" stroke-width="0.28" fill="#000" textLength="58.79" lengthAdjust="spacingAndGlyphs">αριθμός</text>
<text id="rl2" transform="translate(1239.60 324.20) rotate(-90)" font-size="16.50" stroke="#000" stroke-width="0.28" fill="#000" textLength="101.80" lengthAdjust="spacingAndGlyphs">κρουσμάτων</text>
<text id="f1_0" x="16.80" y="764.40" font-size="19.30" stroke="#000" stroke-width="0.28" fill="#000" textLength="42.03" lengthAdjust="spacingAndGlyphs">Σημ.:</text>
<text id="f1_1" x="67.82" y="764.40" font-size="19.30" stroke="#000" stroke-width="0.28" fill="#000" textLength="15.00" lengthAdjust="spacingAndGlyphs">οι</text>
<text id="f1_2" x="91.39" y="764.40" font-size="19.30" stroke="#000" stroke-width="0.28" fill="#000" textLength="58.01" lengthAdjust="spacingAndGlyphs">στήλες</text>
<text id="f1_3" x="158.21" y="764.40" font-size="19.30" stroke="#000" stroke-width="0.28" fill="#000" textLength="27.40" lengthAdjust="spacingAndGlyphs">στο</text>
<text id="f1_4" x="193.60" y="764.40" font-size="19.30" stroke="#000" stroke-width="0.28" fill="#000" textLength="94.00" lengthAdjust="spacingAndGlyphs">Διάγραμμα</text>
<text id="f1_5" x="294.48" y="764.40" font-size="19.30" stroke="#000" stroke-width="0.28" fill="#000" textLength="8.36" lengthAdjust="spacingAndGlyphs">1</text>
<text id="f1_6" x="309.20" y="764.40" font-size="19.30" stroke="#000" stroke-width="0.28" fill="#000" textLength="94.00" lengthAdjust="spacingAndGlyphs">εκφράζουν</text>
<text id="f1_7" x="411.17" y="764.40" font-size="19.30" stroke="#000" stroke-width="0.28" fill="#000" textLength="27.05" lengthAdjust="spacingAndGlyphs">τον</text>
<text id="f1_8" x="447.00" y="764.40" font-size="19.30" stroke="#000" stroke-width="0.28" fill="#000" textLength="59.21" lengthAdjust="spacingAndGlyphs">αριθμό</text>
<text id="f1_9" x="515.39" y="764.40" font-size="19.30" stroke="#000" stroke-width="0.28" fill="#000" textLength="37.79" lengthAdjust="spacingAndGlyphs">νέων</text>
<text id="f1_10" x="561.60" y="764.40" font-size="19.30" stroke="#000" stroke-width="0.28" fill="#000" textLength="111.00" lengthAdjust="spacingAndGlyphs">κρουσμάτων</text>
<text id="f1_11" x="680.37" y="764.40" font-size="19.30" stroke="#000" stroke-width="0.28" fill="#000" textLength="20.26" lengthAdjust="spacingAndGlyphs">με</text>
<text id="f1_12" x="708.40" y="764.40" font-size="19.30" stroke="#000" stroke-width="0.28" fill="#000" textLength="43.60" lengthAdjust="spacingAndGlyphs">βάση</text>
<text id="f1_13" x="760.61" y="764.40" font-size="19.30" stroke="#000" stroke-width="0.28" fill="#000" textLength="28.02" lengthAdjust="spacingAndGlyphs">την</text>
<text id="f1_14" x="795.60" y="764.40" font-size="19.30" stroke="#000" stroke-width="0.28" fill="#000" textLength="102.21" lengthAdjust="spacingAndGlyphs">ημερομηνία</text>
<text id="f1_15" x="906.39" y="764.40" font-size="19.30" stroke="#000" stroke-width="0.28" fill="#000" textLength="54.40" lengthAdjust="spacingAndGlyphs">λήψης</text>
<text id="f1_16" x="968.40" y="764.40" font-size="19.30" stroke="#000" stroke-width="0.28" fill="#000" textLength="132.40" lengthAdjust="spacingAndGlyphs">εργαστηριακού</text>
<text id="f1_17" x="1108.79" y="764.40" font-size="19.30" stroke="#000" stroke-width="0.28" fill="#000" textLength="91.82" lengthAdjust="spacingAndGlyphs">δείγματος,</text>
<text id="f1_18" x="1206.14" y="764.40" font-size="19.30" stroke="#000" stroke-width="0.28" fill="#000" textLength="26.09" lengthAdjust="spacingAndGlyphs">και</text>
<text id="f1_19" x="1239.40" y="764.40" font-size="19.30" stroke="#000" stroke-width="0.28" fill="#000" textLength="24.61" lengthAdjust="spacingAndGlyphs">όχι</text>
<text id="f2_0" x="17.21" y="794.40" font-size="19.30" stroke="#000" stroke-width="0.28" fill="#000" textLength="19.19" lengthAdjust="spacingAndGlyphs">με</text>
<text id="f2_1" x="44.60" y="794.40" font-size="19.30" stroke="#000" stroke-width="0.28" fill="#000" textLength="43.01" lengthAdjust="spacingAndGlyphs">βάση</text>
<text id="f2_2" x="94.80" y="794.40" font-size="19.30" stroke="#000" stroke-width="0.28" fill="#000" textLength="27.80" lengthAdjust="spacingAndGlyphs">την</text>
<text id="f2_3" x="130.80" y="794.40" font-size="19.30" stroke="#000" stroke-width="0.28" fill="#000" textLength="102.00" lengthAdjust="spacingAndGlyphs">ημερομηνία</text>
<text id="f2_4" x="239.60" y="794.40" font-size="19.30" stroke="#000" stroke-width="0.28" fill="#000" textLength="115.20" lengthAdjust="spacingAndGlyphs">ανακοίνωσης</text>
<text id="f2_5" x="363.00" y="794.40" font-size="19.30" stroke="#000" stroke-width="0.28" fill="#000" textLength="29.62" lengthAdjust="spacingAndGlyphs">των</text>
<text id="f2_6" x="399.00" y="794.40" font-size="19.30" stroke="#000" stroke-width="0.28" fill="#000" textLength="114.60" lengthAdjust="spacingAndGlyphs">κρουσμάτων.</text>
</svg>
</body></html>
